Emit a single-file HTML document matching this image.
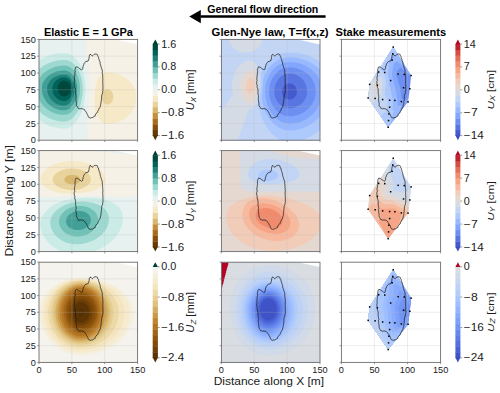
<!DOCTYPE html>
<html><head><meta charset="utf-8"><style>
html,body{margin:0;padding:0;background:#fff;width:500px;height:393px;overflow:hidden}
svg{display:block;font-family:"Liberation Sans",sans-serif}
</style></head><body>
<svg width="500" height="393" viewBox="0 0 500 393">
<rect width="500" height="393" fill="#fff"/>
<clipPath id="c00"><rect x="39" y="39.4" width="98.6" height="100.8"/></clipPath>
<g clip-path="url(#c00)">
<path d="M39 140.2 137.6 140.2 137.6 39.4 39 39.4 39 139.6Z" fill="#e9d39d" fill-rule="evenodd"/>
<path d="M39 140.2 137.6 140.2 137.6 39.4 39 39.4 39 139.6ZM106.4 104.6 104.2 103.5 102.6 101.6 101.6 98.8 101.5 96 101.8 94.3 102.5 92.6 104.2 90.4 105.8 89.4 107.5 89.1 108.4 89.2 109.1 89.4 110.8 90.5 112.3 92.6 113.3 95.4 113.4 98.2 112.8 100.4 112.2 101.6 111.3 102.7 109.7 104.1 108 104.6 106.9 104.7Z" fill="#f6e9c7" fill-rule="evenodd"/>
<path d="M39 140.2 137.6 140.2 137.6 39.4 39 39.4 39 139.6ZM106.4 124 104.7 123.6 103.1 122.8 101.4 121.5 99.6 119.5 97.8 116.7 96.7 114.4 95 109.4 94.6 102.1 94.7 94.8 95.5 88.1 97.1 80.8 98.5 78 100.4 75.8 102.5 73.9 105.3 72.6 108 72.3 113 72.8 117.3 73.8 121.2 75.3 125 77.5 128.6 80.3 131.6 83.6 133.8 87 135.3 90.9 136.1 94.8 136.2 99.3 135.4 103.8 133.8 108.2 131.6 111.9 128.5 115.6 125 118.5 120.6 121.1 116.2 122.8 111.9 123.7 106.9 124.1Z" fill="#f5f1e6" fill-rule="evenodd"/>
<path d="M39 140.2 87 140.2 87.9 125.6 87.5 125.6 87.6 126.2 86.4 126.8 87.2 123.2 87.8 118.5 88.3 120.3 88.5 118.4 87.8 117.8 88.3 109.4 88.8 111.3 89 108.8 88.3 108.3 88.6 103.2 89.4 88.1 90.1 87.6 89.9 85.5 89.4 86.9 89.2 84.8 89.1 82 89.8 81.4 89.1 71.9 88.8 70.1 88.3 71.4 88.1 69.6 88.8 69.1 88.6 67.4 88.3 65.2 87.8 66.2 87.4 63.5 88.1 62.9 88 62.4 87.8 60.4 87.2 61.5 86.4 56.2 85.6 51.7 86.4 51.7 86.3 52.3 86.8 52.3 85.7 39.4 39 39.4 39 139.6ZM85.6 51.6 85.4 51.2 85.6 51.1 85.6 51.2ZM86.1 127.9 86.1 127.9 86.1 127.8 86.1 127.9ZM88.8 77.2 88.8 75.7 89.3 75.8 88.9 76.9ZM89.3 101 89.5 99.3 88.9 99.3 89.2 100.4ZM89.8 91.5 89.9 91.9 90.1 90.4 89.5 90.4 89.6 90.9ZM86.8 56.8 87.4 56.8 87.3 56.2 87.2 55.7 87 56.2Z" fill="#e6f1f0" fill-rule="evenodd"/>
<path d="M60.8 128.4 64.2 128.6 66.4 128.4 68.6 127.7 70.2 127 72.4 125.5 74.6 123.5 76.6 121.2 78.2 118.9 79.7 116.1 81.5 112.2 83.6 105.5 84.7 99.3 85.4 89.8 85.4 83.1 84.2 75.8 82.6 70.2 79.8 64 77.5 60.7 76.1 59 74.1 56.9 71.9 55.3 68 53.5 65.8 53 63.6 52.9 56.5 53.6 51.1 54.8 45 57.1 39 60.5 39 120 44.5 123.6 49.4 125.9 54.9 127.5 60.4 128.4Z" fill="#cbebe6" fill-rule="evenodd"/>
<path d="M57.9 121.2 63.6 121.7 66.9 121.4 69.1 120.5 70.8 119.6 74.1 116.6 77.2 112.2 79.6 107.2 81.4 101 82.6 93.7 82.8 87 82.1 80.8 80.5 74.7 78.2 69.6 75.2 65.4 73.5 63.7 71.3 62.1 69.1 60.9 67.5 60.3 63.6 59.9 57.1 60.5 53.2 61.4 50 62.5 47.2 63.7 43.9 65.4 39 69.2 39 111 42.8 114.5 47.2 117.3 52.1 119.6 57.6 121.1Z" fill="#9dd9d0" fill-rule="evenodd"/>
<path d="M59.6 114.4 64.2 114.8 67.5 114.3 70.8 112.5 73.8 109.4 76.6 104.9 78.3 100.4 79.6 94.8 80 88.7 79.7 83.6 78.5 78.6 76.5 74.1 74.1 70.6 70.8 67.7 67.5 66.1 64.2 65.6 59.8 65.9 56 66.6 52.7 67.7 50 68.9 47.2 70.4 45 72 42.7 74.1 40.3 76.9 39 79.1 39 99.3 39.8 101 43 105.5 45 107.5 47.8 109.7 52.7 112.5 56 113.7 59.3 114.4Z" fill="#70c1b6" fill-rule="evenodd"/>
<path d="M60.3 110 64.2 110.3 66.9 109.8 69.7 108.3 71.9 106 74.1 102.7 75.8 98.2 76.9 93.2 77.2 88.1 76.8 84.2 75.7 80.3 74.1 76.8 71.9 74 69.7 72.2 66.9 71 64.2 70.6 59.8 70.9 56.5 71.6 52.7 73.1 49.4 75 46.7 77.4 44.7 79.7 43.1 82.5 42.2 85.3 41.8 88.7 42.2 92.6 43.2 96 44.8 99.3 47.2 102.7 50 105.3 52.7 107.2 56 108.8 59.8 109.9Z" fill="#419f97" fill-rule="evenodd"/>
<path d="M61.3 105.5 64.2 105.7 66.4 105.3 68.6 104.1 70.5 102.1 72.2 99.3 73.8 94.8 74.4 91.5 74.5 87.6 74 84.2 73.3 82 71.7 79.2 69.7 76.9 67.5 75.5 65.8 74.9 63.1 74.8 60.4 75.1 58.2 75.7 55.4 76.7 52.7 78.3 50.5 80.3 49.2 82 48 84.2 47.3 86.4 47.1 88.7 47.3 91.5 48.1 94.3 49.3 97.1 51.1 99.5 53 101.6 55.4 103.3 58.2 104.6 60.9 105.4Z" fill="#1d8078" fill-rule="evenodd"/>
<path d="M63.5 101 65.3 100.9 66.9 100.4 68.6 99.3 70.2 97.6 71.3 95.8 72.4 92.9 72.9 89.8 73 87.9 72.4 84.8 71.9 83.2 70.8 81.3 69.7 79.9 68 78.6 66.4 77.9 64.7 77.5 62.6 77.6 60.5 78 58.7 78.8 57.1 79.7 55.2 81.4 53.9 83.1 53.1 84.8 52.6 86.4 52.3 88.7 52.6 90.9 53.2 93.2 54.3 95.4 55.6 97.1 57.1 98.5 58.7 99.6 60.9 100.5 63.1 101Z" fill="#016259" fill-rule="evenodd"/>
<path d="M61.9 96 64.2 96.5 66.5 96 67.5 95.4 69.1 93.8 70.2 91.7 70.8 88.7 70.8 87.6 70.2 85.3 68.6 82.6 66.4 81.1 65.8 80.8 63.6 80.7 62.5 80.8 61.3 81.4 59.8 82.6 58.2 85.3 57.6 88.1 58.1 91.5 59.3 93.8 60.2 94.8 61.5 95.7Z" fill="#00483d" fill-rule="evenodd"/>
<path d="M110.6 38.4H138.6V44.6Z" fill="#fff"/>
</g>
<path d="M71.9 39.4V140.2M104.7 39.4V140.2M39 123.4H137.6M39 106.6H137.6M39 89.8H137.6M39 73H137.6M39 56.2H137.6" stroke="#b8b8b8" stroke-opacity="0.3" stroke-width="0.8" fill="none"/>
<path d="M74.6 76.8 74.7 76 74.9 75.3 74.7 74.6 74.9 73.9 75.2 73.1 75 72.4 75.3 71.7 74.9 70.9 75.1 70.2 75 69.5 75.4 68.8 75.5 68.1 75.7 67.3 76.3 66.8 77.6 67.2 78.3 67.6 78.9 68.1 79.5 68.6 80.2 69 80.9 69.4 81.5 70 82.4 69.4 82.7 68.6 82.8 67.7 83.1 66.9 83 66.1 83.5 65.4 83.7 64.6 83.9 63.8 84.4 63.2 84.8 62.5 85.8 61.6 87.1 61.2 88.4 60.7 88.5 59.8 88.9 59 89.1 58.2 89.1 57.3 89.3 56.4 89.3 55.6 89.8 55 90 54.3 91 54.7 91.6 55.5 92.3 56 93.2 55.3 93.8 54.7 94.5 54.3 95.3 54 96.2 54.1 96.9 54.3 97.5 54.7 97.6 55.5 97.8 56.2 98.4 56.8 98.6 57.7 98.7 58.6 99.2 59.5 99.2 60.3 99.7 61.1 99.8 62 100.3 62.7 100.1 63.6 100.3 64.3 100.5 65.1 100.8 65.8 101.1 66.6 101.2 67.3 101.4 68.1 101.8 68.9 102.1 69.8 102.3 70.5 102.4 71.2 102.3 71.9 102.2 72.6 102.5 73.3 102.4 74 102.6 74.8 102.7 75.5 102.6 76.2 102.8 76.9 102.8 77.7 102.7 78.4 103 79.1 102.8 79.9 102.9 80.6 102.7 81.3 102.7 82.1 102.9 82.8 102.8 83.5 102.8 84.2 103 85 102.8 85.7 103 86.4 102.9 87.2 103 87.9 102.9 88.6 102.9 89.4 103.1 90.2 102.9 90.9 102.5 91.7 102.7 92.5 102.5 93.5 102 94.4 101.7 95.2 101.7 95.9 101.5 96.7 101.6 97.5 101.5 98.3 101.3 99 101.5 99.8 101.4 100.5 101 101.2 101.1 102 101 102.7 100.9 103.5 100.8 104.3 100.5 105 100.3 105.8 100.4 106.6 100 107.4 99.3 108 99 108.9 98.6 109.5 98.4 110.2 98.1 110.8 97.7 111.4 97.6 112.2 97.1 112.8 96.2 113.3 95.7 114.2 95.2 115.1 95.2 116.1 94.4 116.3 93.7 116.8 93 117.2 92.3 117.6 91.3 117.7 90.4 118.1 89.7 117.7 88.9 117.6 88.5 116.8 87.9 116.1 87.9 115.2 87.4 114.5 87 113.7 86.6 113.1 86.4 112.4 86 111.8 85.4 111.1 85 110.3 84.2 109.8 83.6 109.1 82.7 108.8 81.7 108.7 80.7 108.6 79.7 108.9 79.1 108.4 78.3 108.4 78 107.6 77.3 107 77.1 106.3 76.6 105.6 76.6 104.8 76.3 104.1 76.6 103.3 76.4 102.5 76.2 101.8 76.1 101 76.1 100.2 75.9 99.4 75.9 98.6 75.8 97.9 76.3 97.1 76.1 96.3 76.1 95.5 75.7 94.8 75.8 94 75.5 93.3 75.7 92.5 75.5 91.7 75.7 90.9 75.6 90.2 75.4 89.4 75.4 88.6 74.9 87.7 74.7 86.7 74.7 85.9 74.9 85.1 74.5 84.4 74.2 83.6 74.4 82.8 74.2 82 74.2 81.3 74.8 80.5 74.5 79.8 74.7 79 74.4 78.3 74.4 77.5 74.6 76.8" stroke="#1a1a1a" stroke-width="0.75" fill="none" stroke-linejoin="round"/>
<rect x="39" y="39.4" width="98.6" height="100.8" fill="none" stroke="#6e6e6e" stroke-width="0.9"/>
<path d="M39 140.2v1.8M71.9 140.2v1.8M104.7 140.2v1.8M137.6 140.2v1.8M39 140.2h-1.8M39 123.4h-1.8M39 106.6h-1.8M39 89.8h-1.8M39 73h-1.8M39 56.2h-1.8M39 39.4h-1.8" stroke="#6e6e6e" stroke-width="0.7"/>
<text x="35.8" y="143.3" font-size="8.5" text-anchor="end" fill="#1a1a1a" textLength="5.1" lengthAdjust="spacingAndGlyphs" >0</text>
<text x="35.8" y="126.5" font-size="8.5" text-anchor="end" fill="#1a1a1a" textLength="10.2" lengthAdjust="spacingAndGlyphs" >25</text>
<text x="35.8" y="109.7" font-size="8.5" text-anchor="end" fill="#1a1a1a" textLength="10.2" lengthAdjust="spacingAndGlyphs" >50</text>
<text x="35.8" y="92.9" font-size="8.5" text-anchor="end" fill="#1a1a1a" textLength="10.2" lengthAdjust="spacingAndGlyphs" >75</text>
<text x="35.8" y="76.1" font-size="8.5" text-anchor="end" fill="#1a1a1a" textLength="15.3" lengthAdjust="spacingAndGlyphs" >100</text>
<text x="35.8" y="59.3" font-size="8.5" text-anchor="end" fill="#1a1a1a" textLength="15.3" lengthAdjust="spacingAndGlyphs" >125</text>
<text x="35.8" y="42.5" font-size="8.5" text-anchor="end" fill="#1a1a1a" textLength="15.3" lengthAdjust="spacingAndGlyphs" >150</text>
<clipPath id="c01"><rect x="221.4" y="39.4" width="98.6" height="100.8"/></clipPath>
<g clip-path="url(#c01)">
<path d="M221.4 140.2 320 140.2 320 39.4 221.4 39.4 221.4 139.6Z" fill="#445acc" fill-rule="evenodd"/>
<path d="M221.4 140.2 320 140.2 320 39.4 221.4 39.4 221.4 139.6ZM288.2 99.4 286.6 98.9 285.5 98.3 284.4 97.4 283.3 96 282.2 93.2 282 91.5 282.2 89.8 283.3 86.9 284.4 85.6 285.5 84.6 286.6 84 288.2 83.5 291 83.6 292.1 83.9 293.7 84.8 295.7 87 296.8 89.8 296.9 92.6 296.1 95.4 294.3 97.7 293.2 98.5 291.5 99.2 288.8 99.5Z" fill="#5875e1" fill-rule="evenodd"/>
<path d="M221.4 140.2 320 140.2 320 39.4 221.4 39.4 221.4 139.6ZM286 107.8 282.9 106.6 280.4 104.9 277.8 102.2 276.2 99.5 275.1 96.7 274.4 93.2 274.5 88.7 275.1 85.9 276.2 82.8 278.3 79.2 280.5 76.9 282.7 75.2 285.1 74.1 287.7 73.5 292.1 73.5 294.5 74.1 297.3 75.2 300.7 77.5 302.5 79.2 304.7 82.2 306.3 85.9 306.9 88.1 307.2 91.5 306.8 94.8 305.8 98.1 304.1 100.9 301.9 103.4 299.2 105.5 295.9 107.1 293.2 107.9 289.9 108.3 286.6 108Z" fill="#6c8ff1" fill-rule="evenodd"/>
<path d="M221.4 140.2 320 140.2 320 39.4 221.4 39.4 221.4 139.6ZM287.1 116.2 282.8 115 278.9 112.8 275.6 109.7 272.9 106 270.7 101.2 269.6 97.1 269.1 91.5 269.6 85.9 270.7 82 272.9 77.4 275.6 73.7 278.9 70.8 283 68.5 287.1 67.4 291.9 67.4 296.4 68.2 300.8 69.7 305.6 72.4 308.9 75.2 311.8 78.8 314 82.8 315.1 86.4 315.7 90.9 315.6 93.7 315.3 96 314 100.4 311.8 104.5 309 108 305.6 111.1 301.9 113.4 297.5 115.1 292.6 116.2 287.7 116.2Z" fill="#82a6fb" fill-rule="evenodd"/>
<path d="M221.4 140.2 320 140.2 320 103.3 318.2 107.2 315.6 111 312.5 114.4 309.2 117.2 305.8 119.5 300.9 121.7 297 122.9 292.6 123.6 288.8 123.7 285.5 123.3 282.2 122.3 278.9 120.5 275.6 118 272.9 115.1 270.7 112 268.5 107.8 267.4 104.9 266.3 101 265.5 97.1 265.2 93.2 265.2 89.2 265.6 85.9 266.3 82.5 267.4 79.2 268.9 75.8 270.5 73 272.3 70.5 274.7 68 276.7 66.3 279.5 64.5 282.8 63.1 285.5 62.3 289.9 61.9 295.4 62.4 300.3 63.6 305.8 65.8 310.1 68.5 314 71.9 317.3 75.8 320 80.6 320 39.4 221.4 39.4 221.4 139.6Z" fill="#98b9ff" fill-rule="evenodd"/>
<path d="M221.4 140.2 320 140.2 320 116.1 317.3 119.1 314 122 310.1 124.7 305.8 127 301.4 128.7 297 129.8 292.6 130.4 288.2 130.5 284.4 129.9 282.2 129.2 278.9 127.7 276.2 125.9 272.9 123.1 270.3 120 268.3 117.2 266.1 113.3 264.4 109.4 263.3 106 261.8 98.8 261.8 97.1 262.8 87.6 263.4 78.6 264.7 75.2 266 72.4 267.8 69.6 269.9 66.8 272 64.6 274.5 62.4 276.7 60.9 279.5 59.4 283.8 57.9 288.8 57.2 294.8 57.5 300.8 58.7 306.3 60.5 311.8 63.2 316.2 66.3 320 69.8 320 39.4 221.4 39.4 221.4 139.6Z" fill="#aec9fc" fill-rule="evenodd"/>
<path d="M221.4 140.2 281.2 140.2 278.4 138.8 275.1 136.6 271.8 133.6 268.8 130.1 266.5 126.8 264.3 122.8 262.2 118.4 260.4 113.3 259.4 109.4 258.3 104.4 259.8 97.6 260.8 89.8 261.3 81.4 261.1 73 262.8 69.6 264.8 66.3 267 63.5 270.2 60.2 273.4 57.6 276.2 55.8 278.4 54.7 281.7 53.5 283.8 53 288.2 52.4 293.2 52.5 298.1 53 305.8 54.7 311.8 57 313.4 57.9 316.2 59.2 320 61.6 320 39.4 221.4 39.4 221.4 139.6ZM301.6 140.2 320 140.2 320 130.1 315.1 133.9 310.7 136.6 305.8 138.8 301.9 140.1Z" fill="#c3d5f4" fill-rule="evenodd"/>
<path d="M221.4 140.2 237.4 140.2 248.8 109.7 249.3 109.2 251.5 109.2 253.2 108.2 254.8 106.5 256.5 103.8 257.6 101 258.6 94.3 259.2 85.9 259.4 79.2 258.7 73.6 257.9 69.6 256.6 65.7 255.4 63.5 253.7 61.5 252.6 60.7 251.5 60.2 248.2 60.4 245 61.4 242.2 63 239.2 65.7 236.7 69 234.9 72.4 232.9 78 232 83.6 232 89.2 233 94.8 221.4 111.3 221.4 139.6ZM242.6 52.3 245.5 52.5 248.2 52.4 251 51.8 253.7 50.8 256 49.5 258.1 47.8 260.1 45.6 261.4 43.3 262 41.6 262.4 39.4 248.8 39.4 229 39.4 229.5 41.6 230.4 43.9 231.8 46.1 233.3 47.8 235.1 49.2 237.3 50.6 239.5 51.5 242.2 52.2Z" fill="#d5dbe5" fill-rule="evenodd"/>
<path d="M248.7 103.2 250.4 103.6 251.2 103.2 252.6 101.9 254.3 99.4 255.4 97 256.5 93.5 257.1 90.4 257.4 86.4 257.3 83.1 256.9 79.7 255.9 75.8 254.8 73 253.9 71.3 253.2 70.7 252.1 70.2 249.9 70.1 247.9 70.8 246.2 71.9 245 73 243.4 75.2 241.7 79.2 241.1 81.4 240.7 85.3 241.1 91.2 242.2 95.4 243.8 98.8 245 100.4 246.1 101.6 248.2 103Z" fill="#e5d8d1" fill-rule="evenodd"/>
<path d="M249.4 94.3 249.9 94.4 251 93.9 252.6 92.2 253.7 89.8 254.2 87.6 254.3 84.7 253.7 81.5 252.6 79 251.4 77.5 249.9 77.6 248.2 79.1 247.1 81.4 246.5 84.2 246.4 87.6 247 90.4 247.9 92.6 249.3 94.3Z" fill="#f1ccb8" fill-rule="evenodd"/>
<path d="M293 38.4H321V44.6Z" fill="#fff"/>
</g>
<path d="M254.3 39.4V140.2M287.1 39.4V140.2M221.4 123.4H320M221.4 106.6H320M221.4 89.8H320M221.4 73H320M221.4 56.2H320" stroke="#b8b8b8" stroke-opacity="0.3" stroke-width="0.8" fill="none"/>
<path d="M257 76.8 257.1 76 257.3 75.3 257.1 74.6 257.3 73.9 257.6 73.1 257.4 72.4 257.7 71.7 257.3 70.9 257.5 70.2 257.4 69.5 257.8 68.8 257.9 68.1 258.1 67.3 258.7 66.8 260 67.2 260.7 67.6 261.3 68.1 261.9 68.6 262.6 69 263.3 69.4 263.9 70 264.8 69.4 265.1 68.6 265.2 67.7 265.5 66.9 265.4 66.1 265.9 65.4 266.1 64.6 266.3 63.8 266.8 63.2 267.2 62.5 268.2 61.6 269.5 61.2 270.8 60.7 270.9 59.8 271.3 59 271.5 58.2 271.5 57.3 271.7 56.4 271.7 55.6 272.2 55 272.4 54.3 273.4 54.7 274 55.5 274.7 56 275.6 55.3 276.2 54.7 276.9 54.3 277.7 54 278.6 54.1 279.3 54.3 279.9 54.7 280 55.5 280.2 56.2 280.8 56.8 281 57.7 281.1 58.6 281.6 59.5 281.6 60.3 282.1 61.1 282.2 62 282.7 62.7 282.5 63.6 282.7 64.3 282.9 65.1 283.2 65.8 283.5 66.6 283.6 67.3 283.8 68.1 284.2 68.9 284.5 69.8 284.7 70.5 284.8 71.2 284.7 71.9 284.6 72.6 284.9 73.3 284.8 74 285 74.8 285.1 75.5 285 76.2 285.2 76.9 285.2 77.7 285.1 78.4 285.4 79.1 285.2 79.9 285.3 80.6 285.1 81.3 285.1 82.1 285.3 82.8 285.2 83.5 285.2 84.2 285.4 85 285.2 85.7 285.4 86.4 285.3 87.2 285.4 87.9 285.3 88.6 285.3 89.4 285.5 90.2 285.3 90.9 284.9 91.7 285.1 92.5 284.9 93.5 284.4 94.4 284.1 95.2 284.1 95.9 283.9 96.7 284 97.5 283.9 98.3 283.7 99 283.9 99.8 283.8 100.5 283.4 101.2 283.5 102 283.4 102.7 283.3 103.5 283.2 104.3 282.9 105 282.7 105.8 282.8 106.6 282.4 107.4 281.7 108 281.4 108.9 281 109.5 280.8 110.2 280.5 110.8 280.1 111.4 280 112.2 279.5 112.8 278.6 113.3 278.1 114.2 277.6 115.1 277.6 116.1 276.8 116.3 276.1 116.8 275.4 117.2 274.7 117.6 273.7 117.7 272.8 118.1 272.1 117.7 271.3 117.6 270.9 116.8 270.3 116.1 270.3 115.2 269.8 114.5 269.4 113.7 269 113.1 268.8 112.4 268.4 111.8 267.8 111.1 267.4 110.3 266.6 109.8 266 109.1 265.1 108.8 264.1 108.7 263.1 108.6 262.1 108.9 261.5 108.4 260.7 108.4 260.4 107.6 259.7 107 259.5 106.3 259 105.6 259 104.8 258.8 104.1 259 103.3 258.8 102.5 258.6 101.8 258.5 101 258.5 100.2 258.3 99.4 258.3 98.6 258.2 97.9 258.7 97.1 258.5 96.3 258.5 95.5 258.1 94.8 258.2 94 257.9 93.3 258.1 92.5 257.9 91.7 258.1 90.9 258 90.2 257.8 89.4 257.8 88.6 257.3 87.7 257.1 86.7 257.1 85.9 257.3 85.1 256.9 84.4 256.6 83.6 256.8 82.8 256.6 82 256.6 81.3 257.2 80.5 256.9 79.8 257.1 79 256.8 78.3 256.8 77.5 257 76.8" stroke="#1a1a1a" stroke-width="0.75" fill="none" stroke-linejoin="round"/>
<rect x="221.4" y="39.4" width="98.6" height="100.8" fill="none" stroke="#6e6e6e" stroke-width="0.9"/>
<path d="M221.4 140.2v1.8M254.3 140.2v1.8M287.1 140.2v1.8M320 140.2v1.8M221.4 140.2h-1.8M221.4 123.4h-1.8M221.4 106.6h-1.8M221.4 89.8h-1.8M221.4 73h-1.8M221.4 56.2h-1.8M221.4 39.4h-1.8" stroke="#6e6e6e" stroke-width="0.7"/>
<clipPath id="c02"><rect x="341.4" y="39.4" width="99.2" height="100.8"/></clipPath>
<g clip-path="url(#c02)">
<path d="M388.2 127.3 408 101.8 409.8 88.7 411.1 75.6 393.2 47 369.6 84.3 368.2 97.9Z" fill="#6c8ff1" fill-rule="evenodd"/>
<path d="M408.3 99.6 407.3 99.5 401.7 99.2 400.8 91.7 399.5 85.5 396.5 75.5 396.3 73.9 396.8 71.1 400.5 67.8 410.2 75.5 409.8 77.6 410.9 77.8 411.1 75.6 393.2 47 369.6 84.3 368.2 97.9 388.2 127.3 408 101.8Z" fill="#82a6fb" fill-rule="evenodd"/>
<path d="M399.5 112.7 401.6 105.8 397.2 105.6 397.5 100.8 397.1 97.2 393.9 82.3 392.8 78.7 392 73.3 393.8 64.1 396.9 61.2 403.2 66.2 405.1 66.1 393.2 47 369.6 84.3 368.2 97.9 388.2 127.3Z" fill="#98b9ff" fill-rule="evenodd"/>
<path d="M389.6 125.5 394.2 110.5 392.3 110.5 392.9 105.6 392.9 100.3 390.3 87.9 389 84.6 389.3 81 388.4 77.5 387.7 72.8 389.3 64.7 388.8 63.1 392.6 55.3 393.2 54.6 394 55.3 398.2 54.9 393.2 47 369.6 84.3 368.2 97.9 388.2 127.3Z" fill="#aec9fc" fill-rule="evenodd"/>
<path d="M380.7 116.3 382.7 114 384.1 113.1 386.2 110.8 386.8 109.1 387.3 104.6 387.3 100 384.9 94.1 385.9 82.2 384 73.7 381.7 72.3 380.9 70.1 385.9 59.5 389.3 53.2 369.6 84.3 368.2 97.9Z" fill="#c3d5f4" fill-rule="evenodd"/>
<path d="M371.9 103.4 372.6 102.7 376.3 100.2 376.6 100 377.1 98.7 381.5 96.4 382.6 83.4 381.4 78.2 378.3 76.2 373 79.7 375.5 75 369.6 84.3 368.2 97.9Z" fill="#d5dbe5" fill-rule="evenodd"/>
<path d="M377.7 81.9 373.5 84.8 376.5 90.5 378.8 89.3 379.2 84.5 378.8 82.6Z" fill="#e5d8d1" fill-rule="evenodd"/>
</g>
<path d="M374.5 39.4V140.2M407.5 39.4V140.2M341.4 123.4H440.6M341.4 106.6H440.6M341.4 89.8H440.6M341.4 73H440.6M341.4 56.2H440.6" stroke="#b8b8b8" stroke-opacity="0.3" stroke-width="0.8" fill="none"/>
<path d="M377.2 76.8 377.3 76 377.5 75.3 377.3 74.6 377.5 73.9 377.8 73.1 377.6 72.4 378 71.7 377.6 70.9 377.7 70.2 377.7 69.5 378 68.8 378.1 68.1 378.3 67.3 379 66.8 380.3 67.2 380.9 67.6 381.6 68.1 382.2 68.6 382.9 69 383.6 69.4 384.2 70 385.1 69.4 385.4 68.6 385.5 67.7 385.7 66.9 385.6 66.1 386.2 65.4 386.4 64.6 386.6 63.8 387.1 63.2 387.5 62.5 388.5 61.6 389.8 61.2 391.1 60.7 391.2 59.8 391.6 59 391.8 58.2 391.8 57.3 392 56.4 392 55.6 392.5 55 392.7 54.3 393.7 54.7 394.3 55.5 395.1 56 395.9 55.3 396.5 54.7 397.2 54.3 398.1 54 398.9 54.1 399.6 54.3 400.3 54.7 400.3 55.5 400.6 56.2 401.2 56.8 401.3 57.7 401.5 58.6 402 59.5 402 60.3 402.5 61.1 402.6 62 403 62.7 402.9 63.6 403.1 64.3 403.3 65.1 403.6 65.8 403.9 66.6 404 67.3 404.2 68.1 404.5 68.9 404.9 69.8 405.1 70.5 405.1 71.2 405.1 71.9 404.9 72.6 405.2 73.3 405.2 74 405.4 74.8 405.5 75.5 405.4 76.2 405.6 76.9 405.6 77.7 405.5 78.4 405.8 79.1 405.6 79.9 405.7 80.6 405.5 81.3 405.5 82.1 405.7 82.8 405.6 83.5 405.6 84.2 405.8 85 405.6 85.7 405.8 86.4 405.6 87.2 405.8 87.9 405.7 88.6 405.7 89.4 405.9 90.2 405.7 90.9 405.2 91.7 405.5 92.5 405.3 93.5 404.7 94.4 404.5 95.2 404.5 95.9 404.3 96.7 404.4 97.5 404.3 98.3 404.1 99 404.3 99.8 404.2 100.5 403.8 101.2 403.9 102 403.8 102.7 403.7 103.5 403.6 104.3 403.3 105 403.1 105.8 403.1 106.6 402.8 107.4 402.1 108 401.8 108.9 401.4 109.5 401.2 110.2 400.9 110.8 400.4 111.4 400.3 112.2 399.9 112.8 399 113.3 398.4 114.2 398 115.1 397.9 116.1 397.1 116.3 396.5 116.8 395.8 117.2 395 117.6 394 117.7 393.1 118.1 392.4 117.7 391.6 117.6 391.2 116.8 390.6 116.1 390.6 115.2 390.1 114.5 389.7 113.7 389.3 113.1 389 112.4 388.7 111.8 388 111.1 387.7 110.3 386.9 109.8 386.3 109.1 385.3 108.8 384.3 108.7 383.3 108.6 382.3 108.9 381.7 108.4 380.9 108.4 380.6 107.6 379.9 107 379.7 106.3 379.2 105.6 379.2 104.8 379 104.1 379.2 103.3 379 102.5 378.8 101.8 378.7 101 378.7 100.2 378.6 99.4 378.5 98.6 378.5 97.9 379 97.1 378.7 96.3 378.7 95.5 378.4 94.8 378.4 94 378.1 93.3 378.3 92.5 378.1 91.7 378.3 90.9 378.2 90.2 378.1 89.4 378 88.6 377.5 87.7 377.3 86.7 377.3 85.9 377.5 85.1 377.1 84.4 376.8 83.6 377 82.8 376.8 82 376.8 81.3 377.4 80.5 377.1 79.8 377.3 79 377 78.3 377 77.5 377.2 76.8" stroke="#1a1a1a" stroke-width="0.75" fill="none" stroke-linejoin="round"/>
<g fill="#000"><rect x="392.5" y="46.3" width="1.5" height="1.5"/><rect x="392" y="53" width="1.5" height="1.5"/><rect x="391.4" y="59.3" width="1.5" height="1.5"/><rect x="377.9" y="71.3" width="1.5" height="1.5"/><rect x="384" y="71.7" width="1.5" height="1.5"/><rect x="397.4" y="73.3" width="1.5" height="1.5"/><rect x="403.5" y="73.7" width="1.5" height="1.5"/><rect x="410.4" y="74.8" width="1.5" height="1.5"/><rect x="389.9" y="79.8" width="1.5" height="1.5"/><rect x="368.9" y="83.6" width="1.5" height="1.5"/><rect x="376.6" y="84.5" width="1.5" height="1.5"/><rect x="402.8" y="87" width="1.5" height="1.5"/><rect x="409.1" y="88" width="1.5" height="1.5"/><rect x="367.4" y="97.2" width="1.5" height="1.5"/><rect x="374.4" y="97.7" width="1.5" height="1.5"/><rect x="381.9" y="98.8" width="1.5" height="1.5"/><rect x="388.9" y="99.5" width="1.5" height="1.5"/><rect x="394.1" y="99.7" width="1.5" height="1.5"/><rect x="400.6" y="100.8" width="1.5" height="1.5"/><rect x="407.3" y="101.1" width="1.5" height="1.5"/><rect x="388.9" y="106.5" width="1.5" height="1.5"/><rect x="388.1" y="113.2" width="1.5" height="1.5"/><rect x="387.8" y="119.8" width="1.5" height="1.5"/><rect x="387.4" y="126.5" width="1.5" height="1.5"/></g>
<rect x="341.4" y="39.4" width="99.2" height="100.8" fill="none" stroke="#6e6e6e" stroke-width="0.9"/>
<path d="M341.4 140.2v1.8M374.5 140.2v1.8M407.5 140.2v1.8M440.6 140.2v1.8M341.4 140.2h-1.8M341.4 123.4h-1.8M341.4 106.6h-1.8M341.4 89.8h-1.8M341.4 73h-1.8M341.4 56.2h-1.8M341.4 39.4h-1.8" stroke="#6e6e6e" stroke-width="0.7"/>
<rect x="152.7" y="129.9" width="5.2" height="6.1" fill="#663a07"/>
<rect x="152.7" y="124.2" width="5.2" height="6.1" fill="#874e0a"/>
<rect x="152.7" y="118.4" width="5.2" height="6.1" fill="#a96c1e"/>
<rect x="152.7" y="112.7" width="5.2" height="6.1" fill="#c58e3d"/>
<rect x="152.7" y="107" width="5.2" height="6.1" fill="#d9b76f"/>
<rect x="152.7" y="101.3" width="5.2" height="6.1" fill="#e9d39d"/>
<rect x="152.7" y="95.5" width="5.2" height="6.1" fill="#f6e9c7"/>
<rect x="152.7" y="89.8" width="5.2" height="6.1" fill="#f5f1e6"/>
<rect x="152.7" y="84.1" width="5.2" height="6.1" fill="#e6f1f0"/>
<rect x="152.7" y="78.3" width="5.2" height="6.1" fill="#cbebe6"/>
<rect x="152.7" y="72.6" width="5.2" height="6.1" fill="#9dd9d0"/>
<rect x="152.7" y="66.9" width="5.2" height="6.1" fill="#70c1b6"/>
<rect x="152.7" y="61.2" width="5.2" height="6.1" fill="#419f97"/>
<rect x="152.7" y="55.4" width="5.2" height="6.1" fill="#1d8078"/>
<rect x="152.7" y="49.7" width="5.2" height="6.1" fill="#016259"/>
<rect x="152.7" y="44" width="5.2" height="6.1" fill="#00483d"/>
<path d="M152.7 44.3L155.3 39.4L157.9 44.3Z" fill="#003c30"/>
<path d="M152.7 135.3L155.3 140.2L157.9 135.3Z" fill="#543005"/>
<text x="161.3" y="139.1" font-size="10.1" text-anchor="start" fill="#1a1a1a" textLength="22.8" lengthAdjust="spacingAndGlyphs" >−1.6</text>
<text x="161.3" y="116.2" font-size="10.1" text-anchor="start" fill="#1a1a1a" textLength="22.8" lengthAdjust="spacingAndGlyphs" >−0.8</text>
<text x="161.3" y="93.3" font-size="10.1" text-anchor="start" fill="#1a1a1a" textLength="15" lengthAdjust="spacingAndGlyphs" >0.0</text>
<text x="161.3" y="70.4" font-size="10.1" text-anchor="start" fill="#1a1a1a" textLength="15" lengthAdjust="spacingAndGlyphs" >0.8</text>
<text x="161.3" y="47.5" font-size="10.1" text-anchor="start" fill="#1a1a1a" textLength="15" lengthAdjust="spacingAndGlyphs" >1.6</text>
<path d="M157.9 135.6h1.8M157.9 112.7h1.8M157.9 89.8h1.8M157.9 66.9h1.8M157.9 44h1.8" stroke="#6e6e6e" stroke-width="0.7"/>
<text transform="translate(194 89.8) rotate(-90)" font-size="10" text-anchor="middle" fill="#1a1a1a" textLength="40.8" lengthAdjust="spacingAndGlyphs"><tspan font-style="italic">U</tspan><tspan font-style="italic" font-size="7" dy="1.6">X</tspan><tspan dy="-1.6"> [mm]</tspan></text>
<rect x="455.4" y="129.9" width="5" height="6.1" fill="#445acc"/>
<rect x="455.4" y="124.2" width="5" height="6.1" fill="#5875e1"/>
<rect x="455.4" y="118.4" width="5" height="6.1" fill="#6c8ff1"/>
<rect x="455.4" y="112.7" width="5" height="6.1" fill="#82a6fb"/>
<rect x="455.4" y="107" width="5" height="6.1" fill="#98b9ff"/>
<rect x="455.4" y="101.3" width="5" height="6.1" fill="#aec9fc"/>
<rect x="455.4" y="95.5" width="5" height="6.1" fill="#c3d5f4"/>
<rect x="455.4" y="89.8" width="5" height="6.1" fill="#d5dbe5"/>
<rect x="455.4" y="84.1" width="5" height="6.1" fill="#e5d8d1"/>
<rect x="455.4" y="78.3" width="5" height="6.1" fill="#f1ccb8"/>
<rect x="455.4" y="72.6" width="5" height="6.1" fill="#f7ba9f"/>
<rect x="455.4" y="66.9" width="5" height="6.1" fill="#f6a586"/>
<rect x="455.4" y="61.2" width="5" height="6.1" fill="#f08b6e"/>
<rect x="455.4" y="55.4" width="5" height="6.1" fill="#e46e56"/>
<rect x="455.4" y="49.7" width="5" height="6.1" fill="#d44e41"/>
<rect x="455.4" y="44" width="5" height="6.1" fill="#be242e"/>
<path d="M455.4 44.3L457.9 39.4L460.4 44.3Z" fill="#b40426"/>
<path d="M455.4 135.3L457.9 140.2L460.4 135.3Z" fill="#3b4cc0"/>
<text x="463.8" y="139.1" font-size="10.1" text-anchor="start" fill="#1a1a1a" textLength="19.9" lengthAdjust="spacingAndGlyphs" >−14</text>
<text x="463.8" y="116.2" font-size="10.1" text-anchor="start" fill="#1a1a1a" textLength="13.9" lengthAdjust="spacingAndGlyphs" >−7</text>
<text x="463.8" y="93.3" font-size="10.1" text-anchor="start" fill="#1a1a1a" textLength="6" lengthAdjust="spacingAndGlyphs" >0</text>
<text x="463.8" y="70.4" font-size="10.1" text-anchor="start" fill="#1a1a1a" textLength="6" lengthAdjust="spacingAndGlyphs" >7</text>
<text x="463.8" y="47.5" font-size="10.1" text-anchor="start" fill="#1a1a1a" textLength="12" lengthAdjust="spacingAndGlyphs" >14</text>
<path d="M460.4 135.6h1.8M460.4 112.7h1.8M460.4 89.8h1.8M460.4 66.9h1.8M460.4 44h1.8" stroke="#6e6e6e" stroke-width="0.7"/>
<text transform="translate(493.6 89.8) rotate(-90)" font-size="9.5" text-anchor="middle" fill="#1a1a1a" textLength="39.5" lengthAdjust="spacingAndGlyphs"><tspan font-style="italic">U</tspan><tspan font-style="italic" font-size="7" dy="1.6">X</tspan><tspan dy="-1.6"> [cm]</tspan></text>
<clipPath id="c10"><rect x="39" y="150.6" width="98.6" height="101"/></clipPath>
<g clip-path="url(#c10)">
<path d="M39 251.6 137.6 251.6 137.6 150.6 39 150.6 39 251Z" fill="#c58e3d" fill-rule="evenodd"/>
<path d="M39 251.6 137.6 251.6 137.6 150.6 39 150.6 39 251ZM71.9 179.8 72 179.2 72.8 179.2 73 179.8 72.4 180Z" fill="#d9b76f" fill-rule="evenodd"/>
<path d="M39 251.6 137.6 251.6 137.6 150.6 39 150.6 39 251ZM70.8 184.3 67.5 183.4 65.8 182.4 65 181.5 64.4 180.3 64.5 178.7 65.6 177 68 175.5 70.8 174.9 74.1 174.9 76.8 175.6 79.1 177 80.3 178.7 80.4 180.3 79.3 182 77.3 183.4 74.6 184.2 71.3 184.4Z" fill="#e9d39d" fill-rule="evenodd"/>
<path d="M39 251.6 137.6 251.6 137.6 150.6 39 150.6 39 251ZM69.7 189.9 65.5 189.3 63.1 188.8 59.8 187.6 56.8 185.9 54.8 184.3 53.5 182.6 52.8 180.9 52.7 178.7 53.5 176.4 54.6 174.7 56.5 172.9 59.3 171.2 62.6 169.9 66.4 168.9 70.2 168.4 73.5 168.4 76.8 168.7 80.1 169.4 83.4 170.6 86.1 172.1 88.3 173.9 89.8 175.8 90.7 178.1 90.8 180.3 90.3 182 88.8 184.3 86.9 185.9 84 187.6 81.2 188.7 78.4 189.4 75.1 189.9 70.2 189.9Z" fill="#f6e9c7" fill-rule="evenodd"/>
<path d="M39 251.6 137.6 251.6 137.6 150.6 39 150.6 39 251ZM62 193.3 59.8 193 55.4 191.9 50.5 190.2 46.1 187.9 43.1 185.4 41.1 182.6 40.4 179.8 40.8 176.4 42.4 173 45 170 48.9 167.1 53.2 164.8 57.6 163.2 62 162.1 65.3 161.6 70.8 161.1 77.9 161.4 82.3 162 87.8 163.2 92.1 164.8 96.5 167.1 100.7 170.2 103.5 173.6 104.9 177 105.2 178.7 105.2 180.3 104.8 182 104.2 183.2 102.5 185.4 99.3 187.9 96 189.7 92.1 191.1 84.5 192.4 76.8 193.2 65.3 193.6 62.6 193.4Z" fill="#f5f1e6" fill-rule="evenodd"/>
<path d="M39 251.6 137.6 251.6 137.6 196.7 137.1 196.7 113 196.7 94.3 196.1 57.1 196.9 39 196.7 39 251ZM137 155.1 137.6 155.2 137.6 150.6 89.9 150.6 88.3 150.6 89.4 150.7 136.5 155Z" fill="#e6f1f0" fill-rule="evenodd"/>
<path d="M60.5 251 61.8 251.6 93.4 251.6 99.8 249.1 105.8 245.7 111.3 241.5 113.6 239.3 116.1 236.4 118.1 233.6 120 230.3 121.2 227.4 122.2 224.1 122.7 220.7 122.9 217.9 122.6 214.6 122 212.3 120.9 210.1 119.3 207.8 117.3 205.9 115.1 204.3 109.7 201.3 105.3 199.7 102 198.9 96 198 91 197.7 86.9 197.7 75.7 198.6 64.7 200.2 58.7 202.4 53.2 205.3 49.4 208 46.7 210.4 44.9 212.3 43.2 214.6 41.9 216.8 40.9 219.1 40.3 221.9 40.2 224.1 40.4 226.3 40.9 229.2 42 232.5 43.5 235.9 45.2 238.7 46.9 240.9 49.4 243.7 51.6 245.7 54.9 248.1 60.4 251Z" fill="#cbebe6" fill-rule="evenodd"/>
<path d="M70.9 243.7 76.2 244.3 81.7 244 87.2 242.8 93.2 240.5 97.6 238 102.2 234.2 105 230.8 106.7 228 107.7 225.8 108.8 221.3 108.8 216.8 107.9 213.4 105.7 210.1 102.5 207.1 98.2 204.6 93.2 202.9 87.8 201.9 81.7 201.5 75.7 202 69.7 203.3 64.8 205 59.8 207.7 56.1 210.6 53.1 214 51.2 217.4 50.2 221.3 50.3 225.2 51.7 229.7 53.9 233.6 57.1 237.1 60.9 240 65.8 242.4 70.8 243.7Z" fill="#9dd9d0" fill-rule="evenodd"/>
<path d="M75.5 236.4 79.5 236.4 83.4 235.8 87.2 234.4 89.9 232.9 92.7 230.8 95.2 228 96.8 225.2 97.8 221.9 98 218.5 97.3 215.7 96.2 213.4 94.4 211.2 92.1 209.4 88.8 207.6 85.6 206.6 81.7 206 77.3 206.1 73.6 206.7 70.2 207.8 66.9 209.5 63.9 211.8 61.8 214 60.1 216.8 59.4 219.1 59 221.9 59.5 225.2 60.8 228 62.6 230.5 65.3 232.9 68 234.5 71.3 235.7 75.2 236.4Z" fill="#70c1b6" fill-rule="evenodd"/>
<path d="M74 229.7 78.4 230 81.1 229.7 83 229.2 85.4 228 87.1 226.9 88.8 225.2 90 223.5 90.6 221.9 90.8 219.6 90.5 217.6 89.9 216.2 88.6 214.6 86.7 213 85.6 212.3 82.8 211.4 80.6 211.1 77.3 211.1 74.3 211.8 73 212.3 70.8 213.4 69.4 214.6 68 216 66.9 217.6 66.3 219.1 66 221.3 66.4 223.5 66.9 224.8 68 226.3 69.2 227.5 71 228.6 73.5 229.6Z" fill="#419f97" fill-rule="evenodd"/>
<path d="M77.7 221.3 78.4 221.5 79.1 221.3 79.5 220.7 79.4 220.2 79 219.8 77.9 219.9 77.5 220.2 77.3 220.8Z" fill="#1d8078" fill-rule="evenodd"/>
<path d="M110.6 149.6H138.6V155.8Z" fill="#fff"/>
</g>
<path d="M71.9 150.6V251.6M104.7 150.6V251.6M39 234.8H137.6M39 217.9H137.6M39 201.1H137.6M39 184.3H137.6M39 167.4H137.6" stroke="#b8b8b8" stroke-opacity="0.3" stroke-width="0.8" fill="none"/>
<path d="M74.6 188 74.7 187.3 74.9 186.6 74.7 185.8 74.9 185.1 75.2 184.4 75 183.7 75.3 183 74.9 182.2 75.1 181.5 75 180.8 75.4 180.1 75.5 179.4 75.7 178.5 76.3 178.1 77.6 178.5 78.3 178.9 78.9 179.4 79.5 179.9 80.2 180.3 80.9 180.7 81.5 181.3 82.4 180.7 82.7 179.8 82.8 179 83.1 178.2 83 177.3 83.5 176.6 83.7 175.8 83.9 175.1 84.4 174.4 84.8 173.7 85.8 172.8 87.1 172.4 88.4 171.9 88.5 171.1 88.9 170.2 89.1 169.4 89.1 168.5 89.3 167.6 89.3 166.9 89.8 166.2 90 165.5 91 165.9 91.6 166.7 92.3 167.2 93.2 166.5 93.8 165.9 94.5 165.5 95.3 165.3 96.2 165.3 96.9 165.6 97.5 165.9 97.6 166.7 97.8 167.4 98.4 168 98.6 169 98.7 169.9 99.2 170.7 99.2 171.6 99.7 172.4 99.8 173.2 100.3 174 100.1 174.8 100.3 175.6 100.5 176.4 100.8 177.1 101.1 177.8 101.2 178.6 101.4 179.4 101.8 180.2 102.1 181.1 102.3 181.7 102.4 182.5 102.3 183.2 102.2 183.9 102.5 184.6 102.4 185.3 102.6 186 102.7 186.8 102.6 187.5 102.8 188.2 102.8 189 102.7 189.7 103 190.4 102.8 191.2 102.9 191.9 102.7 192.6 102.7 193.4 102.9 194.1 102.8 194.8 102.8 195.5 103 196.3 102.8 197 103 197.7 102.9 198.4 103 199.2 102.9 199.9 102.9 200.7 103.1 201.5 102.9 202.3 102.5 203 102.7 203.8 102.5 204.8 102 205.7 101.7 206.5 101.7 207.3 101.5 208 101.6 208.8 101.5 209.6 101.3 210.3 101.5 211.1 101.4 211.8 101 212.5 101.1 213.3 101 214.1 100.9 214.8 100.8 215.6 100.5 216.3 100.3 217.1 100.4 218 100 218.7 99.3 219.3 99 220.2 98.6 220.8 98.4 221.5 98.1 222.1 97.7 222.8 97.6 223.5 97.1 224.1 96.2 224.7 95.7 225.5 95.2 226.5 95.2 227.5 94.4 227.7 93.7 228.2 93 228.6 92.3 229 91.3 229 90.4 229.5 89.7 229.1 88.9 229 88.5 228.2 87.9 227.5 87.9 226.6 87.4 225.8 87 225 86.6 224.5 86.4 223.8 86 223.1 85.4 222.5 85 221.6 84.2 221.2 83.6 220.4 82.7 220.1 81.7 220 80.7 220 79.7 220.2 79.1 219.7 78.3 219.7 78 218.9 77.3 218.3 77.1 217.6 76.6 217 76.6 216.2 76.3 215.4 76.6 214.6 76.4 213.9 76.2 213.1 76.1 212.3 76.1 211.5 75.9 210.7 75.9 210 75.8 209.2 76.3 208.4 76.1 207.6 76.1 206.8 75.7 206.1 75.8 205.3 75.5 204.6 75.7 203.8 75.5 203 75.7 202.2 75.6 201.5 75.4 200.7 75.4 199.9 74.9 199 74.7 198 74.7 197.2 74.9 196.4 74.5 195.7 74.2 194.9 74.4 194.1 74.2 193.3 74.2 192.6 74.8 191.8 74.5 191.1 74.7 190.3 74.4 189.5 74.4 188.8 74.6 188" stroke="#1a1a1a" stroke-width="0.75" fill="none" stroke-linejoin="round"/>
<rect x="39" y="150.6" width="98.6" height="101" fill="none" stroke="#6e6e6e" stroke-width="0.9"/>
<path d="M39 251.6v1.8M71.9 251.6v1.8M104.7 251.6v1.8M137.6 251.6v1.8M39 251.6h-1.8M39 234.8h-1.8M39 217.9h-1.8M39 201.1h-1.8M39 184.3h-1.8M39 167.4h-1.8M39 150.6h-1.8" stroke="#6e6e6e" stroke-width="0.7"/>
<text x="35.8" y="254.7" font-size="8.5" text-anchor="end" fill="#1a1a1a" textLength="5.1" lengthAdjust="spacingAndGlyphs" >0</text>
<text x="35.8" y="237.9" font-size="8.5" text-anchor="end" fill="#1a1a1a" textLength="10.2" lengthAdjust="spacingAndGlyphs" >25</text>
<text x="35.8" y="221" font-size="8.5" text-anchor="end" fill="#1a1a1a" textLength="10.2" lengthAdjust="spacingAndGlyphs" >50</text>
<text x="35.8" y="204.2" font-size="8.5" text-anchor="end" fill="#1a1a1a" textLength="10.2" lengthAdjust="spacingAndGlyphs" >75</text>
<text x="35.8" y="187.4" font-size="8.5" text-anchor="end" fill="#1a1a1a" textLength="15.3" lengthAdjust="spacingAndGlyphs" >100</text>
<text x="35.8" y="170.5" font-size="8.5" text-anchor="end" fill="#1a1a1a" textLength="15.3" lengthAdjust="spacingAndGlyphs" >125</text>
<text x="35.8" y="153.7" font-size="8.5" text-anchor="end" fill="#1a1a1a" textLength="15.3" lengthAdjust="spacingAndGlyphs" >150</text>
<clipPath id="c11"><rect x="221.4" y="150.6" width="98.6" height="101"/></clipPath>
<g clip-path="url(#c11)">
<path d="M221.4 251.6 320 251.6 320 150.6 221.4 150.6 221.4 251Z" fill="#aec9fc" fill-rule="evenodd"/>
<path d="M221.4 251.6 320 251.6 320 150.6 221.4 150.6 221.4 251ZM264.1 180.4 261.2 179.2 259.1 177.5 258.5 176.4 258.2 175.3 258.4 174.2 259 173 260.8 171.3 264.1 169.9 268 169.4 271.8 169.9 275.1 171.1 277.2 173 277.8 174.2 278 175.3 277.5 177 276.5 178.1 275.1 179.2 272.3 180.3 268 180.9 264.7 180.5Z" fill="#c3d5f4" fill-rule="evenodd"/>
<path d="M221.4 251.6 320 251.6 320 150.6 221.4 150.6 221.4 251ZM263 184.3 258.6 183.5 254.1 182 251 180.3 248.7 178.1 248.1 177 247.7 175.3 248.2 171.5 249.9 168 251.5 165.8 254.8 162.9 256.7 161.8 259.1 160.7 263 159.5 267.4 159 270.7 159.1 276.2 159.6 279.5 160.1 282.8 161 287.2 162.4 291 164.1 293.7 165.8 296.2 168 298.1 170.2 299.2 172.5 299.4 175.3 299.2 176.4 298.6 177.5 296.5 179.2 293.1 180.9 289.7 182 284.9 183.1 277.8 184.1 272.9 184.5 267.4 184.6 263.6 184.4Z" fill="#d5dbe5" fill-rule="evenodd"/>
<path d="M221.4 251.6 320 251.6 320 191.7 280.6 191.5 252.6 191.5 246.6 191.1 244.4 190.1 242.8 188.8 241.5 187.1 240.9 185.9 240.3 183.7 240.2 150.6 221.4 150.6 221.4 251ZM313.6 159 320 159.4 320 150.6 275.1 150.6 268.5 150.6 295.4 157.9 313.4 159Z" fill="#e5d8d1" fill-rule="evenodd"/>
<path d="M265.3 250.5 268 250.7 268.5 250.5 272.9 250.7 277.3 250.5 277.8 250.7 280.5 250.5 283.3 250 283.8 250.1 286.6 249.5 288.3 249.4 289.9 248.8 290.4 248.9 292.1 248.3 292.6 248.4 294.3 247.7 295 247.7 295.9 247.2 296.8 247.1 297.5 246.6 298.1 246.7 299.2 246 299.7 246 301.9 244.9 302.5 244.8 303 244.4 303.6 244.3 304.1 243.8 304.7 243.8 305.2 243.3 305.8 243.2 306.3 242.6 308.6 241.5 309 240.9 310.1 240.4 311.2 239.3 312.4 238.7 314.8 236.4 316.7 234.2 317.3 233.1 318 232.5 318.4 231.4 318.9 231 319.1 230.3 319.6 229.7 319.6 229.2 320 228.9 320 215.4 319.6 215.1 318.9 213.8 314.5 209.5 311.2 207.2 307.4 205 299.6 201.7 289.9 198.7 280 196.9 271.8 195.8 262.5 195.6 258.1 196 257.6 195.9 253.2 196.4 245.5 198.1 243.9 198.8 243.2 198.9 242.2 199.4 241.7 199.4 237.8 201.1 233.2 203.9 229.6 207.3 229 208.4 228.3 209 226.7 212.3 226.8 212.9 226.3 214.6 226.2 217.9 226.3 219.7 226.8 221.3 226.7 221.9 227.3 223.5 227.4 224.7 227.8 225.2 228 226.2 228.5 226.9 228.5 227.5 229 228 229 228.6 229.6 229.2 230.6 231.4 232.9 234.5 233.4 234.8 235.3 237 237.3 238.7 237.6 239.3 241.3 242.1 243.3 243.4 244.4 243.7 245 244.3 245.5 244.4 247.1 245.4 247.7 245.5 248.3 246 252.5 247.7 256.5 248.9 257.6 249 259.2 249.5 259.7 249.4 261.2 249.9 262.5 250.1 263 250 265.2 250.5Z" fill="#f1ccb8" fill-rule="evenodd"/>
<path d="M272.9 240.9 281.1 240.9 281.7 240.4 284.4 240.4 284.9 239.9 286 239.8 286.6 239.3 287.7 239.3 288.2 238.7 289.3 238.7 291 237.6 291.5 237.6 292.6 236.5 293.2 236.5 297 232.5 297 232 297.6 231.4 297.6 230.8 298.6 229.2 298.7 227.5 299.2 226.9 299.2 223.5 298.7 223 298.7 221.3 298.2 220.7 298.1 219.6 297.6 219.1 297.6 218.5 297.1 217.9 297 217.4 296.5 216.8 296.5 216.2 295.4 215.1 295.4 214.6 289.3 208.4 288.8 208.3 287.1 206.7 286.6 206.6 285.5 205.6 283.8 204.9 282.8 203.9 281.1 203.3 280.6 202.8 280 202.7 279.5 202.2 278.9 202.2 278.4 201.7 277.3 201.6 275.6 200.5 274.5 200.5 274 200 272.3 199.9 271.8 199.4 270.2 199.3 269.6 198.8 268.5 198.8 267.4 198.8 266.9 198.3 257.6 198.3 257 198.8 255.4 198.8 254.8 199.4 253.2 199.4 251.5 200.5 250.4 200.5 249.3 201.6 248.8 201.6 247.7 202.7 247.1 202.8 245.5 204.5 245.5 205 244.4 206.1 244.4 206.7 243.3 208.4 243.2 209.5 242.7 210.1 242.7 212.3 242.2 212.9 242.2 215.7 242.7 216.2 242.8 219.1 243.3 219.6 243.3 220.7 244.3 222.4 244.4 223 244.9 223.5 244.9 224.1 245.4 224.7 245.5 225.2 246.5 226.3 246.6 226.9 248.7 229.2 248.8 229.7 249.9 230.8 250.4 230.9 253.2 233.6 253.7 233.7 254.8 234.8 255.4 234.8 255.9 235.4 256.5 235.4 257 235.9 257.6 236 258.1 236.5 258.6 236.5 259.2 237 259.7 237.1 261.4 238.1 262.5 238.2 263 238.7 264.1 238.8 264.7 239.3 266.3 239.3 266.9 239.8 268.5 239.9 269.1 240.4 272.3 240.5Z" fill="#f7ba9f" fill-rule="evenodd"/>
<path d="M272.1 233.6 276.2 233.9 280 233.4 283.3 232.4 286 231 288.2 229.2 289.7 226.9 290.5 224.1 290.4 221.3 289.6 218.5 288.1 215.7 285.5 212.6 282.2 209.7 278.9 207.6 275.1 205.7 270.7 204.2 267.4 203.5 263.6 203.3 259.7 203.6 255.9 204.7 253.3 206.1 251 208.3 249.7 210.6 249 213.4 249.2 216.2 250.2 219.6 251.7 222.4 254 225.2 257 227.9 260.3 230 264.1 231.7 267.4 232.8 271.8 233.6Z" fill="#f6a586" fill-rule="evenodd"/>
<path d="M269.9 228 272.9 228.2 275.6 228 278.9 226.9 280.4 225.8 281.7 224.3 282.2 223.3 282.7 220.7 282.3 218.5 281.7 217 280 214.6 278.3 212.9 274 210.1 271.2 209 268.5 208.3 265.2 208.1 261.9 208.4 259.1 209.5 257.5 210.6 256.5 211.9 255.9 212.9 255.5 215.7 255.9 217.9 256.5 219.2 257.6 220.9 259.4 223 261.4 224.7 264.5 226.3 267.4 227.5 269.6 228Z" fill="#f08b6e" fill-rule="evenodd"/>
<path d="M293 149.6H321V155.8Z" fill="#fff"/>
</g>
<path d="M254.3 150.6V251.6M287.1 150.6V251.6M221.4 234.8H320M221.4 217.9H320M221.4 201.1H320M221.4 184.3H320M221.4 167.4H320" stroke="#b8b8b8" stroke-opacity="0.3" stroke-width="0.8" fill="none"/>
<path d="M257 188 257.1 187.3 257.3 186.6 257.1 185.8 257.3 185.1 257.6 184.4 257.4 183.7 257.7 183 257.3 182.2 257.5 181.5 257.4 180.8 257.8 180.1 257.9 179.4 258.1 178.5 258.7 178.1 260 178.5 260.7 178.9 261.3 179.4 261.9 179.9 262.6 180.3 263.3 180.7 263.9 181.3 264.8 180.7 265.1 179.8 265.2 179 265.5 178.2 265.4 177.3 265.9 176.6 266.1 175.8 266.3 175.1 266.8 174.4 267.2 173.7 268.2 172.8 269.5 172.4 270.8 171.9 270.9 171.1 271.3 170.2 271.5 169.4 271.5 168.5 271.7 167.6 271.7 166.9 272.2 166.2 272.4 165.5 273.4 165.9 274 166.7 274.7 167.2 275.6 166.5 276.2 165.9 276.9 165.5 277.7 165.3 278.6 165.3 279.3 165.6 279.9 165.9 280 166.7 280.2 167.4 280.8 168 281 169 281.1 169.9 281.6 170.7 281.6 171.6 282.1 172.4 282.2 173.2 282.7 174 282.5 174.8 282.7 175.6 282.9 176.4 283.2 177.1 283.5 177.8 283.6 178.6 283.8 179.4 284.2 180.2 284.5 181.1 284.7 181.7 284.8 182.5 284.7 183.2 284.6 183.9 284.9 184.6 284.8 185.3 285 186 285.1 186.8 285 187.5 285.2 188.2 285.2 189 285.1 189.7 285.4 190.4 285.2 191.2 285.3 191.9 285.1 192.6 285.1 193.4 285.3 194.1 285.2 194.8 285.2 195.5 285.4 196.3 285.2 197 285.4 197.7 285.3 198.4 285.4 199.2 285.3 199.9 285.3 200.7 285.5 201.5 285.3 202.3 284.9 203 285.1 203.8 284.9 204.8 284.4 205.7 284.1 206.5 284.1 207.3 283.9 208 284 208.8 283.9 209.6 283.7 210.3 283.9 211.1 283.8 211.8 283.4 212.5 283.5 213.3 283.4 214.1 283.3 214.8 283.2 215.6 282.9 216.3 282.7 217.1 282.8 218 282.4 218.7 281.7 219.3 281.4 220.2 281 220.8 280.8 221.5 280.5 222.1 280.1 222.8 280 223.5 279.5 224.1 278.6 224.7 278.1 225.5 277.6 226.5 277.6 227.5 276.8 227.7 276.1 228.2 275.4 228.6 274.7 229 273.7 229 272.8 229.5 272.1 229.1 271.3 229 270.9 228.2 270.3 227.5 270.3 226.6 269.8 225.8 269.4 225 269 224.5 268.8 223.8 268.4 223.1 267.8 222.5 267.4 221.6 266.6 221.2 266 220.4 265.1 220.1 264.1 220 263.1 220 262.1 220.2 261.5 219.7 260.7 219.7 260.4 218.9 259.7 218.3 259.5 217.6 259 217 259 216.2 258.8 215.4 259 214.6 258.8 213.9 258.6 213.1 258.5 212.3 258.5 211.5 258.3 210.7 258.3 210 258.2 209.2 258.7 208.4 258.5 207.6 258.5 206.8 258.1 206.1 258.2 205.3 257.9 204.6 258.1 203.8 257.9 203 258.1 202.2 258 201.5 257.8 200.7 257.8 199.9 257.3 199 257.1 198 257.1 197.2 257.3 196.4 256.9 195.7 256.6 194.9 256.8 194.1 256.6 193.3 256.6 192.6 257.2 191.8 256.9 191.1 257.1 190.3 256.8 189.5 256.8 188.8 257 188" stroke="#1a1a1a" stroke-width="0.75" fill="none" stroke-linejoin="round"/>
<rect x="221.4" y="150.6" width="98.6" height="101" fill="none" stroke="#6e6e6e" stroke-width="0.9"/>
<path d="M221.4 251.6v1.8M254.3 251.6v1.8M287.1 251.6v1.8M320 251.6v1.8M221.4 251.6h-1.8M221.4 234.8h-1.8M221.4 217.9h-1.8M221.4 201.1h-1.8M221.4 184.3h-1.8M221.4 167.4h-1.8M221.4 150.6h-1.8" stroke="#6e6e6e" stroke-width="0.7"/>
<clipPath id="c12"><rect x="341.4" y="150.6" width="99.2" height="101"/></clipPath>
<g clip-path="url(#c12)">
<path d="M388.2 238.7 408 213.1 409.8 200 411.1 186.9 393.2 158.2 369.6 195.6 368.2 209.2Z" fill="#c3d5f4" fill-rule="evenodd"/>
<path d="M410.9 189.1 403.9 192.3 400.8 192.2 392.6 190.2 394.8 184.9 390.2 174.4 389.6 173.6 388.8 170 389.2 165.2 388.3 166 369.6 195.6 368.2 209.2 388.2 238.7 408 213.1 409.8 200Z" fill="#d5dbe5" fill-rule="evenodd"/>
<path d="M409.6 201.5 404.4 201.8 402.4 200.7 391.5 195.5 389.1 195.6 385.7 193.5 386.2 185.7 386.9 183.9 385.9 181.6 383.7 178.9 383.4 177.2 383.5 175 381.4 176.9 369.6 195.6 368.2 209.2 388.2 238.7 408 213.1Z" fill="#e5d8d1" fill-rule="evenodd"/>
<path d="M408.9 206.6 406 206.8 400.3 203.7 392.4 199.9 390.3 199.8 387.2 200 379.8 195.6 380.1 191.7 378.4 186.6 377.2 185.4 374.5 187.8 369.6 195.6 368.2 209.2 388.2 238.7 408 213.1Z" fill="#f1ccb8" fill-rule="evenodd"/>
<path d="M408.2 211.7 407.6 211.7 398.3 206.6 393.3 204.2 390 204.1 385.3 204.5 378.8 200.6 375.9 205.3 372.4 202.7 368.2 209.2 388.2 238.7 408 213.1Z" fill="#f7ba9f" fill-rule="evenodd"/>
<path d="M391.5 234.4 399.9 220.9 400 218.2 402.4 212.9 394.2 208.6 389.8 208.4 383.4 208.9 381.5 207.7 379.8 210.4 380.9 216.2 380.7 218.9 378.4 220.5 385.7 235 388.2 238.7Z" fill="#f6a586" fill-rule="evenodd"/>
</g>
<path d="M374.5 150.6V251.6M407.5 150.6V251.6M341.4 234.8H440.6M341.4 217.9H440.6M341.4 201.1H440.6M341.4 184.3H440.6M341.4 167.4H440.6" stroke="#b8b8b8" stroke-opacity="0.3" stroke-width="0.8" fill="none"/>
<path d="M377.2 188 377.3 187.3 377.5 186.6 377.3 185.8 377.5 185.1 377.8 184.4 377.6 183.7 378 183 377.6 182.2 377.7 181.5 377.7 180.8 378 180.1 378.1 179.4 378.3 178.5 379 178.1 380.3 178.5 380.9 178.9 381.6 179.4 382.2 179.9 382.9 180.3 383.6 180.7 384.2 181.3 385.1 180.7 385.4 179.8 385.5 179 385.7 178.2 385.6 177.3 386.2 176.6 386.4 175.8 386.6 175.1 387.1 174.4 387.5 173.7 388.5 172.8 389.8 172.4 391.1 171.9 391.2 171.1 391.6 170.2 391.8 169.4 391.8 168.5 392 167.6 392 166.9 392.5 166.2 392.7 165.5 393.7 165.9 394.3 166.7 395.1 167.2 395.9 166.5 396.5 165.9 397.2 165.5 398.1 165.3 398.9 165.3 399.6 165.6 400.3 165.9 400.3 166.7 400.6 167.4 401.2 168 401.3 169 401.5 169.9 402 170.7 402 171.6 402.5 172.4 402.6 173.2 403 174 402.9 174.8 403.1 175.6 403.3 176.4 403.6 177.1 403.9 177.8 404 178.6 404.2 179.4 404.5 180.2 404.9 181.1 405.1 181.7 405.1 182.5 405.1 183.2 404.9 183.9 405.2 184.6 405.2 185.3 405.4 186 405.5 186.8 405.4 187.5 405.6 188.2 405.6 189 405.5 189.7 405.8 190.4 405.6 191.2 405.7 191.9 405.5 192.6 405.5 193.4 405.7 194.1 405.6 194.8 405.6 195.5 405.8 196.3 405.6 197 405.8 197.7 405.6 198.4 405.8 199.2 405.7 199.9 405.7 200.7 405.9 201.5 405.7 202.3 405.2 203 405.5 203.8 405.3 204.8 404.7 205.7 404.5 206.5 404.5 207.3 404.3 208 404.4 208.8 404.3 209.6 404.1 210.3 404.3 211.1 404.2 211.8 403.8 212.5 403.9 213.3 403.8 214.1 403.7 214.8 403.6 215.6 403.3 216.3 403.1 217.1 403.1 218 402.8 218.7 402.1 219.3 401.8 220.2 401.4 220.8 401.2 221.5 400.9 222.1 400.4 222.8 400.3 223.5 399.9 224.1 399 224.7 398.4 225.5 398 226.5 397.9 227.5 397.1 227.7 396.5 228.2 395.8 228.6 395 229 394 229 393.1 229.5 392.4 229.1 391.6 229 391.2 228.2 390.6 227.5 390.6 226.6 390.1 225.8 389.7 225 389.3 224.5 389 223.8 388.7 223.1 388 222.5 387.7 221.6 386.9 221.2 386.3 220.4 385.3 220.1 384.3 220 383.3 220 382.3 220.2 381.7 219.7 380.9 219.7 380.6 218.9 379.9 218.3 379.7 217.6 379.2 217 379.2 216.2 379 215.4 379.2 214.6 379 213.9 378.8 213.1 378.7 212.3 378.7 211.5 378.6 210.7 378.5 210 378.5 209.2 379 208.4 378.7 207.6 378.7 206.8 378.4 206.1 378.4 205.3 378.1 204.6 378.3 203.8 378.1 203 378.3 202.2 378.2 201.5 378.1 200.7 378 199.9 377.5 199 377.3 198 377.3 197.2 377.5 196.4 377.1 195.7 376.8 194.9 377 194.1 376.8 193.3 376.8 192.6 377.4 191.8 377.1 191.1 377.3 190.3 377 189.5 377 188.8 377.2 188" stroke="#1a1a1a" stroke-width="0.75" fill="none" stroke-linejoin="round"/>
<g fill="#000"><rect x="392.5" y="157.5" width="1.5" height="1.5"/><rect x="392" y="164.2" width="1.5" height="1.5"/><rect x="391.4" y="170.6" width="1.5" height="1.5"/><rect x="377.9" y="182.6" width="1.5" height="1.5"/><rect x="384" y="182.9" width="1.5" height="1.5"/><rect x="397.4" y="184.6" width="1.5" height="1.5"/><rect x="403.5" y="184.9" width="1.5" height="1.5"/><rect x="410.4" y="186.1" width="1.5" height="1.5"/><rect x="389.9" y="191" width="1.5" height="1.5"/><rect x="368.9" y="194.8" width="1.5" height="1.5"/><rect x="376.6" y="195.7" width="1.5" height="1.5"/><rect x="402.8" y="198.2" width="1.5" height="1.5"/><rect x="409.1" y="199.2" width="1.5" height="1.5"/><rect x="367.4" y="208.5" width="1.5" height="1.5"/><rect x="374.4" y="209" width="1.5" height="1.5"/><rect x="381.9" y="210.1" width="1.5" height="1.5"/><rect x="388.9" y="210.8" width="1.5" height="1.5"/><rect x="394.1" y="211" width="1.5" height="1.5"/><rect x="400.6" y="212.1" width="1.5" height="1.5"/><rect x="407.3" y="212.4" width="1.5" height="1.5"/><rect x="388.9" y="217.8" width="1.5" height="1.5"/><rect x="388.1" y="224.5" width="1.5" height="1.5"/><rect x="387.8" y="231.1" width="1.5" height="1.5"/><rect x="387.4" y="237.9" width="1.5" height="1.5"/></g>
<rect x="341.4" y="150.6" width="99.2" height="101" fill="none" stroke="#6e6e6e" stroke-width="0.9"/>
<path d="M341.4 251.6v1.8M374.5 251.6v1.8M407.5 251.6v1.8M440.6 251.6v1.8M341.4 251.6h-1.8M341.4 234.8h-1.8M341.4 217.9h-1.8M341.4 201.1h-1.8M341.4 184.3h-1.8M341.4 167.4h-1.8M341.4 150.6h-1.8" stroke="#6e6e6e" stroke-width="0.7"/>
<rect x="152.7" y="241.3" width="5.2" height="6.1" fill="#663a07"/>
<rect x="152.7" y="235.5" width="5.2" height="6.1" fill="#874e0a"/>
<rect x="152.7" y="229.8" width="5.2" height="6.1" fill="#a96c1e"/>
<rect x="152.7" y="224.1" width="5.2" height="6.1" fill="#c58e3d"/>
<rect x="152.7" y="218.3" width="5.2" height="6.1" fill="#d9b76f"/>
<rect x="152.7" y="212.6" width="5.2" height="6.1" fill="#e9d39d"/>
<rect x="152.7" y="206.8" width="5.2" height="6.1" fill="#f6e9c7"/>
<rect x="152.7" y="201.1" width="5.2" height="6.1" fill="#f5f1e6"/>
<rect x="152.7" y="195.4" width="5.2" height="6.1" fill="#e6f1f0"/>
<rect x="152.7" y="189.6" width="5.2" height="6.1" fill="#cbebe6"/>
<rect x="152.7" y="183.9" width="5.2" height="6.1" fill="#9dd9d0"/>
<rect x="152.7" y="178.1" width="5.2" height="6.1" fill="#70c1b6"/>
<rect x="152.7" y="172.4" width="5.2" height="6.1" fill="#419f97"/>
<rect x="152.7" y="166.7" width="5.2" height="6.1" fill="#1d8078"/>
<rect x="152.7" y="160.9" width="5.2" height="6.1" fill="#016259"/>
<rect x="152.7" y="155.2" width="5.2" height="6.1" fill="#00483d"/>
<path d="M152.7 155.5L155.3 150.6L157.9 155.5Z" fill="#003c30"/>
<path d="M152.7 246.7L155.3 251.6L157.9 246.7Z" fill="#543005"/>
<text x="161.3" y="250.5" font-size="10.1" text-anchor="start" fill="#1a1a1a" textLength="22.8" lengthAdjust="spacingAndGlyphs" >−1.6</text>
<text x="161.3" y="227.6" font-size="10.1" text-anchor="start" fill="#1a1a1a" textLength="22.8" lengthAdjust="spacingAndGlyphs" >−0.8</text>
<text x="161.3" y="204.6" font-size="10.1" text-anchor="start" fill="#1a1a1a" textLength="15" lengthAdjust="spacingAndGlyphs" >0.0</text>
<text x="161.3" y="181.6" font-size="10.1" text-anchor="start" fill="#1a1a1a" textLength="15" lengthAdjust="spacingAndGlyphs" >0.8</text>
<text x="161.3" y="158.7" font-size="10.1" text-anchor="start" fill="#1a1a1a" textLength="15" lengthAdjust="spacingAndGlyphs" >1.6</text>
<path d="M157.9 247h1.8M157.9 224.1h1.8M157.9 201.1h1.8M157.9 178.1h1.8M157.9 155.2h1.8" stroke="#6e6e6e" stroke-width="0.7"/>
<text transform="translate(194 201.1) rotate(-90)" font-size="10" text-anchor="middle" fill="#1a1a1a" textLength="40.8" lengthAdjust="spacingAndGlyphs"><tspan font-style="italic">U</tspan><tspan font-style="italic" font-size="7" dy="1.6">Y</tspan><tspan dy="-1.6"> [mm]</tspan></text>
<rect x="455.4" y="241.3" width="5" height="6.1" fill="#445acc"/>
<rect x="455.4" y="235.5" width="5" height="6.1" fill="#5875e1"/>
<rect x="455.4" y="229.8" width="5" height="6.1" fill="#6c8ff1"/>
<rect x="455.4" y="224.1" width="5" height="6.1" fill="#82a6fb"/>
<rect x="455.4" y="218.3" width="5" height="6.1" fill="#98b9ff"/>
<rect x="455.4" y="212.6" width="5" height="6.1" fill="#aec9fc"/>
<rect x="455.4" y="206.8" width="5" height="6.1" fill="#c3d5f4"/>
<rect x="455.4" y="201.1" width="5" height="6.1" fill="#d5dbe5"/>
<rect x="455.4" y="195.4" width="5" height="6.1" fill="#e5d8d1"/>
<rect x="455.4" y="189.6" width="5" height="6.1" fill="#f1ccb8"/>
<rect x="455.4" y="183.9" width="5" height="6.1" fill="#f7ba9f"/>
<rect x="455.4" y="178.1" width="5" height="6.1" fill="#f6a586"/>
<rect x="455.4" y="172.4" width="5" height="6.1" fill="#f08b6e"/>
<rect x="455.4" y="166.7" width="5" height="6.1" fill="#e46e56"/>
<rect x="455.4" y="160.9" width="5" height="6.1" fill="#d44e41"/>
<rect x="455.4" y="155.2" width="5" height="6.1" fill="#be242e"/>
<path d="M455.4 155.5L457.9 150.6L460.4 155.5Z" fill="#b40426"/>
<path d="M455.4 246.7L457.9 251.6L460.4 246.7Z" fill="#3b4cc0"/>
<text x="463.8" y="250.5" font-size="10.1" text-anchor="start" fill="#1a1a1a" textLength="19.9" lengthAdjust="spacingAndGlyphs" >−14</text>
<text x="463.8" y="227.6" font-size="10.1" text-anchor="start" fill="#1a1a1a" textLength="13.9" lengthAdjust="spacingAndGlyphs" >−7</text>
<text x="463.8" y="204.6" font-size="10.1" text-anchor="start" fill="#1a1a1a" textLength="6" lengthAdjust="spacingAndGlyphs" >0</text>
<text x="463.8" y="181.6" font-size="10.1" text-anchor="start" fill="#1a1a1a" textLength="6" lengthAdjust="spacingAndGlyphs" >7</text>
<text x="463.8" y="158.7" font-size="10.1" text-anchor="start" fill="#1a1a1a" textLength="12" lengthAdjust="spacingAndGlyphs" >14</text>
<path d="M460.4 247h1.8M460.4 224.1h1.8M460.4 201.1h1.8M460.4 178.1h1.8M460.4 155.2h1.8" stroke="#6e6e6e" stroke-width="0.7"/>
<text transform="translate(493.6 201.1) rotate(-90)" font-size="9.5" text-anchor="middle" fill="#1a1a1a" textLength="39.5" lengthAdjust="spacingAndGlyphs"><tspan font-style="italic">U</tspan><tspan font-style="italic" font-size="7" dy="1.6">Y</tspan><tspan dy="-1.6"> [cm]</tspan></text>
<clipPath id="c20"><rect x="39" y="262.2" width="98.6" height="100.2"/></clipPath>
<g clip-path="url(#c20)">
<path d="M39 362.4 137.6 362.4 137.6 262.2 39 262.2 39 361.8Z" fill="#543005" fill-rule="evenodd"/>
<path d="M39 362.4 137.6 362.4 137.6 262.2 39 262.2 39 361.8ZM79.5 316.3 78.4 315.2 77.9 314 77.7 312.3 78 310.6 78.6 309.5 79.5 308.6 80.6 308.2 82 308.4 82.9 309 83.9 310.5 84.2 311.7 84.2 313.4 83.5 315.1 82.8 315.9 81.7 316.6 80.1 316.6Z" fill="#5b3406" fill-rule="evenodd"/>
<path d="M39 362.4 137.6 362.4 137.6 262.2 39 262.2 39 361.8ZM79.5 322.9 77.9 322.3 76.5 321.2 75.2 319.7 74.1 317.8 73.5 316.2 73 312.9 73.5 309 74.1 307.1 75.2 305.1 77.3 302.9 78.4 302.3 80.6 301.8 83.4 302.2 84.6 302.8 86.1 304 87.8 306.1 88.3 307.2 88.8 308.7 89.3 311.2 89.3 314 88.9 316.2 88.3 317.6 87.2 319.5 86.1 320.8 85 321.8 82.8 322.8 80.1 323Z" fill="#6e4007" fill-rule="evenodd"/>
<path d="M39 362.4 137.6 362.4 137.6 262.2 39 262.2 39 361.8ZM78.4 325.3 76.2 324.2 74.6 322.9 73.2 321.2 71.9 319 71.1 316.8 70.6 314 70.5 311.7 70.9 309 71.7 306.2 72.7 303.9 74.1 302.1 75.7 300.6 77.3 299.6 79.5 298.9 81.7 298.8 83.9 299.2 86.1 300.3 87.8 301.6 89.4 303.4 90.5 305.2 91.4 307.3 92 310.1 92.2 312.9 92 315.1 91.4 317.3 90.4 319.5 88.9 321.8 87.2 323.4 85.3 324.5 83.4 325.3 81.2 325.6 79 325.4Z" fill="#804a09" fill-rule="evenodd"/>
<path d="M39 362.4 137.6 362.4 137.6 262.2 39 262.2 39 361.8ZM79 328 76.2 327.1 74.1 325.7 71.9 323.6 70.2 321.2 69 318.4 68.3 315.1 68.1 312.3 68.4 309 69.1 305.8 70.2 303.2 71.9 300.6 74.1 298.3 76.2 296.9 78.4 296 81.2 295.8 84 296.2 86.7 297.2 89.2 298.9 91 300.9 92.7 303.3 93.8 305.6 94.7 309 94.9 311.2 94.9 314.6 94.3 317.3 93.2 320.1 91.6 322.6 89.9 324.5 87.6 326.2 85 327.4 82.3 328.1 79.5 328.1Z" fill="#8f540c" fill-rule="evenodd"/>
<path d="M39 362.4 137.6 362.4 137.6 262.2 39 262.2 39 361.8ZM79.5 330.7 76.8 330.1 74.1 328.8 71.3 326.6 69.2 324 67.5 320.6 66.4 317.3 66 314 66 310.1 66.7 306.2 67.9 302.8 69.7 299.6 71.9 297 74.6 294.8 77.3 293.6 80.1 293.1 83.4 293.3 86.1 294.1 88.8 295.6 91.4 297.8 93.6 300.6 95.3 303.9 96.4 307.3 96.9 311.2 96.9 314.5 96.3 317.9 95 321.2 93.2 324.2 91 326.7 88.8 328.4 86.1 329.8 83.4 330.6 80.1 330.8Z" fill="#a16518" fill-rule="evenodd"/>
<path d="M39 362.4 137.6 362.4 137.6 262.2 39 262.2 39 361.8ZM80.6 333.5 77.3 333 74.1 331.7 70.9 329.6 68.3 326.8 66.3 323.4 64.8 319.5 64 315.6 63.8 311.2 64.3 306.7 65.5 302.8 67.3 298.9 69.7 295.8 72.4 293.3 75.7 291.4 79 290.5 82.3 290.5 85.6 291.1 88.8 292.7 91.6 294.7 94.3 297.7 96.4 301.2 97.7 304.5 98.6 308.4 98.9 312.9 98.6 316.8 97.5 320.6 96 324 93.6 327.3 91 329.8 87.8 331.9 84.5 333.1 81.2 333.5Z" fill="#b17423" fill-rule="evenodd"/>
<path d="M39 362.4 137.6 362.4 137.6 262.2 39 262.2 39 361.8ZM77.3 335.7 75.3 335.1 73 334 69.8 331.8 66.9 328.8 64.7 325.4 63.1 321.6 61.9 316.8 61.6 312.3 62 307.3 63.1 302.9 64.7 298.9 67.5 294.7 70.5 291.7 71.9 290.6 73.8 289.5 76.8 288.3 80.6 287.8 82.5 287.8 85 288.3 88.3 289.5 91.7 291.7 94.9 294.8 97.6 298.8 99.5 303.4 100.6 307.8 100.9 312.3 100.6 316.8 99.5 321.2 97.8 325.1 95.4 328.7 92.4 331.8 89.1 334 85 335.6 81.2 336.1 77.9 335.8Z" fill="#c08430" fill-rule="evenodd"/>
<path d="M39 362.4 137.6 362.4 137.6 262.2 39 262.2 39 361.8ZM76.8 337.4 73 336 69.1 333.6 65.8 330.4 63.1 326.4 61.3 322.3 60 317.3 59.6 312.3 60 307.3 61.3 302.3 63.3 297.8 66 293.9 69.4 290.6 73 288.3 77.3 286.8 81.2 286.4 85.6 287 89.4 288.4 93.2 290.8 96.6 293.9 99.4 297.8 101.5 302.3 102.8 306.7 103.4 311.7 103.1 316.8 101.8 321.8 99.8 326.2 97 330.1 93.8 333.2 90 335.7 86.1 337.2 81.7 337.9 77.3 337.5Z" fill="#ca9849" fill-rule="evenodd"/>
<path d="M39 362.4 137.6 362.4 137.6 262.2 39 262.2 39 361.8ZM80.1 339.6 75.7 338.9 71.3 337.2 67.4 334.6 63.6 330.7 60.8 326.2 58.8 321.2 57.8 316.2 57.6 310.6 58.4 305.1 60.1 300.1 62.6 295.6 65.8 291.7 69.7 288.6 74.1 286.3 78.4 285.3 83.4 285.3 87.8 286.2 92.5 288.4 96.3 291.1 100 295 102.8 299.5 104.6 303.9 105.7 309 105.8 314 105.1 319 103.4 324 101 328.4 97.8 332.3 94.3 335.3 89.9 337.7 85.6 339.1 80.6 339.6Z" fill="#d4ac62" fill-rule="evenodd"/>
<path d="M39 362.4 137.6 362.4 137.6 262.2 39 262.2 39 361.8ZM79.5 341.3 74.6 340.4 72.2 339.6 69.7 338.3 65.3 335.2 61.6 331.2 58.7 326.5 56.7 321.2 55.7 315.6 55.6 310.1 56.5 304.5 58.3 299.5 61.2 294.5 64.7 290.5 69 287.2 73.7 285 78.4 284 81.2 283.8 83.9 284 88.8 285.1 93.8 287.3 98.4 290.6 102.1 294.5 105 298.9 107.1 303.9 108.1 309 108.3 314.5 107.3 320.1 105.5 325.1 102.9 329.6 99.3 333.8 94.9 337.2 90.5 339.5 85.6 340.9 80.1 341.3Z" fill="#dec17b" fill-rule="evenodd"/>
<path d="M39 362.4 137.6 362.4 137.6 262.2 39 262.2 39 361.8ZM78.4 342.9 75.7 342.5 73 341.7 68 339.5 63.6 336.2 61.5 334 59.7 331.8 57.8 329 56.5 326.5 54.5 320.6 53.5 314.5 53.7 308.4 54.9 302.8 57.3 297.3 59 294.5 60.7 292.3 64.7 288.4 67 286.7 69.7 285.2 74.6 283.3 77.3 282.8 80.1 282.5 85.6 282.9 91 284.4 96 286.7 100.6 290 102.9 292.3 104.7 294.5 107.8 299.5 109.7 304.5 110.7 310.1 110.6 315.6 109.5 321.2 107.3 326.8 104.2 331.6 100.3 335.7 95.6 339 90.5 341.4 85 342.7 81.7 343 79 343Z" fill="#e6cd92" fill-rule="evenodd"/>
<path d="M39 362.4 137.6 362.4 137.6 262.2 39 262.2 39 361.8ZM77.9 344.6 75.7 344.3 71.9 343.3 66.9 341 63.6 338.7 62 337.3 59.4 334.6 57.2 331.8 54.2 326.2 52.3 320.6 51.8 317.9 51.4 314 51.4 311.2 51.8 307.3 53 302.3 54 299.5 55.7 296.2 59.3 291.1 61.5 288.9 64.2 286.7 69 283.9 73.5 282.2 76.2 281.6 80.1 281.3 86.3 281.7 89 282.2 92.6 283.4 97.4 285.6 100 287.2 102.5 289.2 106.6 293.4 109.9 298.4 112.2 303.9 113.2 309.5 113.2 315.6 112.2 321.2 111 324.5 109.4 327.9 106 332.9 102 337 97.1 340.5 93.8 342.2 91 343.2 85.6 344.5 81.7 344.8 78.4 344.7Z" fill="#edd9a8" fill-rule="evenodd"/>
<path d="M39 362.4 137.6 362.4 137.6 262.2 39 262.2 39 361.8ZM79.5 347.4 76.2 347.1 73 346.4 69.7 345.3 66.4 343.8 63.6 342.1 60.9 340.1 58.5 337.9 56.1 335.1 54.1 332.3 52.4 329.6 50.9 326.2 49.7 322.9 48.9 319.5 48.4 315.6 48.2 312.3 48.4 309 49 305.6 49.8 302.8 51.1 299.5 52.6 296.7 54.4 293.9 56.7 291.1 58.9 288.9 61.6 286.7 64.2 285 67.4 283.4 70.2 282.2 73.5 281.3 79.5 280.4 82.8 280.5 86.7 280.8 93.2 282.3 96.3 283.4 100 285 102.9 286.7 106.1 288.9 111 293.4 114.8 298.4 116.3 301.2 117.4 303.9 118.2 306.7 118.7 309.5 118.9 312.3 118.7 315.6 118.2 319 117.5 321.8 116.3 325.1 114.9 327.9 113.2 330.7 111.1 333.5 108.6 336.2 106.1 338.5 103.1 340.7 100.4 342.4 97.1 344 93.8 345.3 87.2 346.9 83.4 347.3 80.1 347.4Z" fill="#f4e5be" fill-rule="evenodd"/>
<path d="M39 362.4 137.6 362.4 137.6 262.2 39 262.2 39 361.8ZM75.7 349.7 71.9 348.9 68.6 347.8 65.3 346.3 62 344.4 58.7 342 56.1 339.6 53.6 336.8 51.5 334 49.6 330.7 48 327.3 46.8 324 45.8 320.1 45.2 316.2 45.1 312.3 45.3 308.4 46 305.1 47.1 301.7 48.6 298.4 50.2 295.6 52.3 292.8 54.8 290 57.4 287.8 60.4 285.6 63.6 283.7 66.9 282.2 70.2 281.1 73.5 280.3 77.3 279.8 80.6 279.6 85 279.8 89.4 280.3 93.2 281 100.6 283.4 107.4 286.7 110.8 288.9 113.6 291.1 116 293.4 118.5 296.2 120.5 298.9 122 301.7 123.2 304.5 124 307.3 124.4 310.1 124.5 313.4 124.2 316.8 123.6 320.1 122.6 323.4 121.2 326.8 119.3 330.1 117.4 332.9 115.1 335.7 112.2 338.5 109.5 340.7 106.3 342.9 103.1 344.7 99.3 346.5 95.4 347.9 91.6 348.9 87.8 349.6 83.9 350 80.1 350.1 76.2 349.7Z" fill="#f6ebcf" fill-rule="evenodd"/>
<path d="M39 362.4 137.6 362.4 137.6 262.2 39 262.2 39 361.8ZM76.2 352.4 72.7 351.8 68.7 350.7 64.7 349.1 61.5 347.4 58.1 345.1 54.9 342.4 51.6 339 49.4 336.2 47.2 332.7 45.6 329.5 43.9 325.3 42.8 321.2 42.2 317.3 41.9 312.3 42.3 307.8 42.8 305.1 43.9 301.7 45.6 298.2 47.2 295.5 49.4 292.6 51.8 290 54.3 287.8 58.2 285.1 61.5 283.2 65 281.7 69.1 280.3 76.2 279 80.1 278.7 84.5 278.8 88.8 279.2 94.3 280 102.7 282.2 107 283.9 110.6 285.6 114.4 287.8 118.4 290.6 123.4 295.4 126.7 300.1 128.3 303.3 129.4 306.5 129.9 309.2 130.1 312.3 129.9 316.2 129.4 319.6 128.3 323.4 127.2 326.2 125.5 329.4 123.3 332.9 120.6 336.2 117.9 339 114.6 341.8 111.3 344.1 107.6 346.3 102.8 348.5 98.2 350.2 94 351.3 89.4 352.1 85 352.6 80.6 352.7 76.8 352.5Z" fill="#f5efde" fill-rule="evenodd"/>
<path d="M39 362.4 137.6 362.4 137.6 262.2 39 262.2 39 361.8ZM80.1 355.2 75.7 355 72.4 354.5 68 353.3 64.2 351.7 59.8 349.4 56.5 347.2 53.2 344.5 49.6 340.7 47.4 337.9 44.6 333.5 42.5 329 40.8 324 39.8 319 39.4 314 39.3 311.7 39.7 307.3 40.9 302.8 42 300.1 45.2 294.5 47.9 291.1 50.5 288.6 53.2 286.3 57.6 283.5 58.2 283.4 58.7 282.9 59.3 282.8 59.8 282.3 60.4 282.2 62 281.3 64.2 280.6 64.7 280.2 65.9 280 66.4 279.6 67.6 279.5 68.6 279 69.8 278.9 70.8 278.5 72.7 278.3 74.1 277.9 81.7 277.4 84.9 277.8 89.4 277.9 91.6 278.4 93.8 278.5 94.8 278.9 96.5 279 97.6 279.5 99.3 279.6 99.8 280 101.4 280.2 102 280.6 103.1 280.7 103.7 281.1 104.7 281.2 105.5 281.7 106.4 281.8 106.9 282.2 109.1 282.9 109.7 283.4 113 284.7 116.8 286.9 120.1 289.1 123.4 291.8 126.5 295 128.7 297.8 130.8 301.2 132 303.9 133 307.3 133.5 310.6 133.5 314.5 133.1 318.4 132 322.9 130.8 326.2 129.2 329.6 127.6 332.3 124.2 336.8 122.2 339 119.5 341.6 115.1 345 110.8 347.8 106.4 350 98.7 352.8 94.9 353.8 88.3 354.9 80.6 355.2Z" fill="#f5f3ee" fill-rule="evenodd"/>
<path d="M110.6 261.2H138.6V267.3Z" fill="#fff"/>
</g>
<path d="M71.9 262.2V362.4M104.7 262.2V362.4M39 345.7H137.6M39 329H137.6M39 312.3H137.6M39 295.6H137.6M39 278.9H137.6" stroke="#b8b8b8" stroke-opacity="0.3" stroke-width="0.8" fill="none"/>
<path d="M74.6 299.3 74.7 298.6 74.9 297.9 74.7 297.2 74.9 296.4 75.2 295.7 75 295 75.3 294.3 74.9 293.6 75.1 292.8 75 292.1 75.4 291.4 75.5 290.7 75.7 289.9 76.3 289.4 77.6 289.8 78.3 290.3 78.9 290.7 79.5 291.2 80.2 291.6 80.9 292 81.5 292.6 82.4 292 82.7 291.2 82.8 290.3 83.1 289.6 83 288.7 83.5 288 83.7 287.2 83.9 286.5 84.4 285.8 84.8 285.2 85.8 284.3 87.1 283.9 88.4 283.4 88.5 282.5 88.9 281.7 89.1 280.8 89.1 280 89.3 279.1 89.3 278.3 89.8 277.7 90 277 91 277.4 91.6 278.2 92.3 278.7 93.2 278 93.8 277.4 94.5 277 95.3 276.7 96.2 276.8 96.9 277.1 97.5 277.4 97.6 278.2 97.8 278.9 98.4 279.5 98.6 280.4 98.7 281.3 99.2 282.1 99.2 283 99.7 283.8 99.8 284.7 100.3 285.4 100.1 286.2 100.3 287 100.5 287.7 100.8 288.5 101.1 289.2 101.2 290 101.4 290.7 101.8 291.6 102.1 292.4 102.3 293.1 102.4 293.8 102.3 294.5 102.2 295.2 102.5 295.9 102.4 296.6 102.6 297.3 102.7 298.1 102.6 298.8 102.8 299.5 102.8 300.2 102.7 301 103 301.7 102.8 302.4 102.9 303.2 102.7 303.9 102.7 304.6 102.9 305.3 102.8 306.1 102.8 306.8 103 307.5 102.8 308.2 103 308.9 102.9 309.7 103 310.4 102.9 311.1 102.9 311.9 103.1 312.7 102.9 313.4 102.5 314.2 102.7 315 102.5 316 102 316.9 101.7 317.6 101.7 318.4 101.5 319.2 101.6 320 101.5 320.7 101.3 321.5 101.5 322.2 101.4 323 101 323.6 101.1 324.4 101 325.2 100.9 325.9 100.8 326.7 100.5 327.4 100.3 328.2 100.4 329 100 329.8 99.3 330.4 99 331.3 98.6 331.9 98.4 332.5 98.1 333.2 97.7 333.8 97.6 334.6 97.1 335.2 96.2 335.7 95.7 336.6 95.2 337.5 95.2 338.4 94.4 338.7 93.7 339.1 93 339.5 92.3 339.9 91.3 340 90.4 340.4 89.7 340 88.9 339.9 88.5 339.1 87.9 338.4 87.9 337.6 87.4 336.8 87 336.1 86.6 335.5 86.4 334.8 86 334.2 85.4 333.5 85 332.7 84.2 332.2 83.6 331.5 82.7 331.2 81.7 331.1 80.7 331 79.7 331.3 79.1 330.8 78.3 330.8 78 330 77.3 329.4 77.1 328.7 76.6 328 76.6 327.2 76.3 326.5 76.6 325.7 76.4 325 76.2 324.2 76.1 323.4 76.1 322.6 75.9 321.9 75.9 321.1 75.8 320.3 76.3 319.5 76.1 318.8 76.1 318 75.7 317.3 75.8 316.5 75.5 315.8 75.7 315 75.5 314.2 75.7 313.4 75.6 312.7 75.4 311.9 75.4 311.1 74.9 310.2 74.7 309.2 74.7 308.4 74.9 307.6 74.5 306.9 74.2 306.1 74.4 305.3 74.2 304.6 74.2 303.8 74.8 303.1 74.5 302.3 74.7 301.6 74.4 300.8 74.4 300.1 74.6 299.3" stroke="#1a1a1a" stroke-width="0.75" fill="none" stroke-linejoin="round"/>
<rect x="39" y="262.2" width="98.6" height="100.2" fill="none" stroke="#6e6e6e" stroke-width="0.9"/>
<path d="M39 362.4v1.8M71.9 362.4v1.8M104.7 362.4v1.8M137.6 362.4v1.8M39 362.4h-1.8M39 345.7h-1.8M39 329h-1.8M39 312.3h-1.8M39 295.6h-1.8M39 278.9h-1.8M39 262.2h-1.8" stroke="#6e6e6e" stroke-width="0.7"/>
<text x="35.8" y="365.5" font-size="8.5" text-anchor="end" fill="#1a1a1a" textLength="5.1" lengthAdjust="spacingAndGlyphs" >0</text>
<text x="35.8" y="348.8" font-size="8.5" text-anchor="end" fill="#1a1a1a" textLength="10.2" lengthAdjust="spacingAndGlyphs" >25</text>
<text x="35.8" y="332.1" font-size="8.5" text-anchor="end" fill="#1a1a1a" textLength="10.2" lengthAdjust="spacingAndGlyphs" >50</text>
<text x="35.8" y="315.4" font-size="8.5" text-anchor="end" fill="#1a1a1a" textLength="10.2" lengthAdjust="spacingAndGlyphs" >75</text>
<text x="35.8" y="298.7" font-size="8.5" text-anchor="end" fill="#1a1a1a" textLength="15.3" lengthAdjust="spacingAndGlyphs" >100</text>
<text x="35.8" y="282" font-size="8.5" text-anchor="end" fill="#1a1a1a" textLength="15.3" lengthAdjust="spacingAndGlyphs" >125</text>
<text x="35.8" y="265.3" font-size="8.5" text-anchor="end" fill="#1a1a1a" textLength="15.3" lengthAdjust="spacingAndGlyphs" >150</text>
<text x="39" y="372.7" font-size="8.5" text-anchor="middle" fill="#1a1a1a" textLength="5.1" lengthAdjust="spacingAndGlyphs" >0</text>
<text x="71.9" y="372.7" font-size="8.5" text-anchor="middle" fill="#1a1a1a" textLength="10.2" lengthAdjust="spacingAndGlyphs" >50</text>
<text x="104.7" y="372.7" font-size="8.5" text-anchor="middle" fill="#1a1a1a" textLength="15.3" lengthAdjust="spacingAndGlyphs" >100</text>
<text x="137.6" y="372.7" font-size="8.5" text-anchor="middle" fill="#1a1a1a" textLength="15.3" lengthAdjust="spacingAndGlyphs" >150</text>
<clipPath id="c21"><rect x="221.4" y="262.2" width="98.6" height="100.2"/></clipPath>
<g clip-path="url(#c21)">
<path d="M221.4 362.4 320 362.4 320 262.2 221.4 262.2 221.4 361.8Z" fill="#3f53c6" fill-rule="evenodd"/>
<path d="M221.4 362.4 320 362.4 320 262.2 221.4 262.2 221.4 361.8ZM266.3 320.1 264.1 319 262.5 317.3 261.4 315.6 260.3 312.3 260.3 306.7 260.6 306.2 261.4 303.6 262.5 301.7 264.1 300 266.1 298.9 268 298.6 270.7 298.9 272.7 300.1 274 301.2 275.1 302.8 276.2 305.1 276.3 306.2 276.7 307.3 276.7 311.8 275.6 315.2 273.4 318.4 270.7 320.1 268.5 320.4 266.9 320.2Z" fill="#4961d2" fill-rule="evenodd"/>
<path d="M221.4 362.4 320 362.4 320 262.2 221.4 262.2 221.4 361.8ZM266.3 322.4 264.7 321.7 263 320.6 261.4 318.8 260.1 316.8 259.2 314.5 258.6 311.7 258.5 309 258.7 306.7 259.3 304.5 260.3 302.3 261.4 300.6 263 298.9 264.7 297.8 266.9 297 268.5 296.9 270.7 297.2 272.9 298.2 274.5 299.5 276 301.2 277 302.8 277.9 305.1 278.4 307.3 278.5 309.5 278.3 312.3 277.8 314.5 276.7 317.1 275.5 319 274 320.5 272.3 321.6 270.7 322.3 268.5 322.6 266.9 322.5Z" fill="#536edd" fill-rule="evenodd"/>
<path d="M221.4 362.4 320 362.4 320 262.2 221.4 262.2 221.4 361.8ZM266.9 324.6 264.7 323.9 262.5 322.5 260.8 321 259.4 319 258.3 316.8 257.4 314 257 310.6 257 307.8 257.5 305.1 258.3 302.8 259.7 300.3 261.4 298.3 263.6 296.7 265.8 295.7 268 295.3 270.2 295.5 272.3 296.2 274.5 297.5 276.2 299 277.8 301.1 278.9 303.4 279.8 306.2 280.1 308.4 280.1 311.2 279.6 314 278.7 316.8 277.6 319 275.9 321.2 274 322.9 271.8 324.1 269.6 324.6 267.4 324.6Z" fill="#5d7ce6" fill-rule="evenodd"/>
<path d="M221.4 362.4 320 362.4 320 262.2 221.4 262.2 221.4 361.8ZM265.2 326.2 263 325.2 260.7 323.4 258.8 321.2 257.3 318.4 256.2 315.6 255.6 312.3 255.4 309 255.8 305.6 256.7 302.8 258.1 300.1 259.8 297.8 261.9 295.9 264.1 294.7 266.9 293.9 269.6 293.8 271.8 294.3 274.5 295.6 276.7 297.3 278.6 299.5 279.9 301.7 281 304.5 281.6 307.3 281.7 310.1 281.4 313.4 280.5 316.8 279.3 319.5 277.8 321.8 275.6 324 273.4 325.5 270.7 326.5 268 326.8 265.8 326.4Z" fill="#6788ee" fill-rule="evenodd"/>
<path d="M221.4 362.4 320 362.4 320 262.2 221.4 262.2 221.4 361.8ZM265.8 328.5 263 327.5 260.4 325.7 258.3 323.4 256.5 320.6 255.1 317.3 254.3 314 253.9 310.1 254.1 306.7 254.9 303.4 256.3 300.1 258.1 297.4 260.3 295.2 263 293.5 265.8 292.5 268.5 292.2 271.2 292.5 274 293.5 276.7 295.2 278.9 297.3 280.8 300.1 282.1 302.8 283 306.2 283.3 309.5 283.1 312.9 282.4 316.2 281.1 319.7 279.5 322.5 277.3 325.1 274.5 327.1 271.8 328.3 269.1 328.8 266.3 328.6Z" fill="#7295f4" fill-rule="evenodd"/>
<path d="M221.4 362.4 320 362.4 320 262.2 221.4 262.2 221.4 361.8ZM266.3 330.7 263 329.7 260.3 328 257.9 325.7 255.9 322.9 254.2 319.5 253 315.6 252.4 311.2 252.5 307.3 253.3 303.4 254.6 300.1 256.5 297 258.6 294.6 261.4 292.6 264.1 291.4 267.4 290.7 270.7 290.9 274 291.8 276.7 293.3 279.5 295.6 281.7 298.3 283.4 301.7 284.4 305.1 284.9 308.4 284.8 312.3 284.1 316.2 282.8 320.1 281 323.4 278.7 326.2 276.1 328.4 272.9 330.1 270.2 330.8 266.9 330.8Z" fill="#7da0f9" fill-rule="evenodd"/>
<path d="M221.4 362.4 320 362.4 320 262.2 221.4 262.2 221.4 361.8ZM267.4 332.9 264.1 332.2 260.8 330.7 258 328.4 255.4 325.2 253.2 321.2 251.8 317.3 251 312.9 250.9 308.4 251.4 304.5 252.7 300.6 254.4 297.3 257 294.1 259.7 291.8 263 290.1 266.3 289.3 269.6 289.2 272.9 289.8 276.2 291.1 279.4 293.4 282 296.2 284.1 299.5 285.5 302.8 286.3 306.7 286.5 310.6 286 315.1 284.8 319.5 283 323.4 280.7 326.8 277.8 329.6 274.5 331.6 271.2 332.7 268 332.9Z" fill="#88abfd" fill-rule="evenodd"/>
<path d="M221.4 362.4 320 362.4 320 262.2 221.4 262.2 221.4 361.8ZM265.2 334.7 261.8 333.5 258.4 331.2 255.4 328.2 253 324.5 251.2 320.6 250 316.2 249.4 311.2 249.5 306.2 250.6 301.7 252.3 297.8 254.5 294.5 257.6 291.5 260.8 289.4 264.1 288.1 268 287.6 271.8 287.9 275.6 289.1 278.9 291 282.2 293.9 284.8 297.3 286.4 300.6 287.5 303.9 288.1 308.4 288 313.4 286.9 318.4 285.3 322.9 283 326.8 280 330.1 276.7 332.6 273.4 334.2 269.6 335 265.8 334.8Z" fill="#93b5fe" fill-rule="evenodd"/>
<path d="M221.4 362.4 320 362.4 320 262.2 221.4 262.2 221.4 361.8ZM265.8 336.8 261.9 335.7 258.1 333.4 254.8 330.4 252.1 326.7 249.9 322.3 248.4 317.3 247.6 311.7 247.7 306.7 248.6 302.3 250.3 297.8 252.8 293.9 255.9 290.6 259.7 288.1 263.6 286.6 267.4 285.9 271.8 286.2 276.2 287.4 280 289.5 283.5 292.3 286.2 295.6 288.4 299.5 289.9 303.9 290.6 308.4 290.4 313.4 289.4 318.4 287.5 323.4 284.9 327.8 282 331.2 278.4 334.1 274.5 335.9 270.7 336.9 266.3 336.9Z" fill="#9ebeff" fill-rule="evenodd"/>
<path d="M221.4 362.4 320 362.4 320 262.2 221.4 262.2 221.4 361.8ZM264.1 338.5 259.7 336.8 255.9 334.2 252.6 330.7 249.7 326.2 247.6 321.2 246.2 315.6 245.7 309.5 246.2 304.5 247.6 299.5 249.8 295 252.9 291.1 256.5 288.1 260.3 285.9 264.7 284.6 269.1 284.3 274 284.9 278.4 286.4 282.6 288.9 286.3 292.3 289.2 296.2 291.4 300.6 292.7 305.6 293 310.6 292.5 315.6 291 321.2 288.8 326.1 286 330.1 282.2 333.9 278.4 336.5 274 338.2 269.1 339 264.7 338.6Z" fill="#a9c6fd" fill-rule="evenodd"/>
<path d="M221.4 362.4 320 362.4 320 262.2 221.4 262.2 221.4 361.8ZM265.2 340.8 262.6 340.1 260.3 339.3 255.9 336.6 252.1 333 248.8 328.4 246.2 322.9 244.7 317.3 243.9 311.2 244 307.8 244.3 305.1 245.5 300.1 247.8 295 251 290.6 254.8 287.1 259.2 284.6 264.1 283 269.1 282.6 274 283.2 278.9 284.7 283.6 287.2 287.6 290.6 290.8 294.5 293.3 298.9 294.9 303.9 295.5 309 295.2 314.5 294 320.1 291.7 325.7 288.8 330.3 284.9 334.5 280.6 337.7 275.6 339.9 270.7 340.9 265.8 340.8Z" fill="#b3cdfb" fill-rule="evenodd"/>
<path d="M221.4 362.4 320 362.4 320 262.2 221.4 262.2 221.4 361.8ZM266.3 342.9 264.1 342.7 261.9 342.1 259.2 341 256.5 339.4 254.8 338.3 251.9 335.7 249.5 332.9 247.9 330.7 245.3 325.7 244 322.3 243 318.4 242.4 315.1 242.1 311.2 242.3 305.6 243.5 300.1 245.7 295 247.4 292.3 249.1 290 252.1 287 254.3 285.3 257 283.6 261.4 281.8 263.6 281.3 267.4 280.8 270.2 280.8 272.9 281.2 274.5 281.4 278.4 282.5 283.3 284.7 286.6 286.9 288.8 288.7 292.5 292.8 295.2 297.3 296.2 299.5 297.2 302.8 298 307.3 297.9 313.4 296.7 319.5 294.7 325.1 291.8 330.1 289.7 332.9 287.1 335.5 284.4 337.8 282.2 339.2 277.3 341.6 272.3 342.8 269.1 343.1 266.9 343Z" fill="#bed2f6" fill-rule="evenodd"/>
<path d="M221.4 362.4 320 362.4 320 262.2 221.4 262.2 221.4 361.8ZM266.3 346.3 263 345.8 260.3 344.9 257.6 343.8 254.8 342.2 252.1 340.2 249.9 338.2 247.6 335.7 245.6 332.9 243.9 330 242.3 326.8 241.1 323.4 240 319.5 239 312.3 238.9 308.4 239.2 305.1 239.8 301.7 240.7 298.4 241.9 295 243.3 292.3 245 289.5 247.1 286.7 249.3 284.3 251.5 282.4 254.3 280.5 257 279 259.7 277.9 262.5 277.1 265.2 276.6 268.5 276.5 271.8 276.6 275.1 277.1 278.4 277.9 281.4 278.9 287.1 281.8 292.2 285.6 294.4 287.8 296.4 290.3 299.7 295.6 300.9 298.4 301.9 301.7 302.9 307.8 302.7 314 302.1 317.3 301.3 320.6 300.1 324 298.6 327.3 295 332.9 292.6 335.7 290.4 337.8 287.7 340 285 341.8 279.5 344.4 273.4 346 270.2 346.3 266.9 346.3Z" fill="#c7d7f0" fill-rule="evenodd"/>
<path d="M221.4 362.4 320 362.4 320 262.2 221.4 262.2 221.4 361.8ZM266.3 349.6 263 349.2 259.7 348.3 256.5 346.9 253.7 345.4 251 343.5 248.2 341.1 245.5 338.2 243.2 335.1 241.2 331.8 239.6 328.4 238.1 324.5 237 320.6 236.3 316.8 235.8 312.3 235.8 307.8 236.1 303.9 236.8 300.1 237.8 296.4 239.2 292.8 240.8 289.5 242.8 286.3 245 283.4 247.7 280.6 250.3 278.3 253.2 276.4 255.9 274.9 259.2 273.5 262.5 272.6 265.8 272.1 269.1 272 272.9 272.2 276.4 272.8 280 273.7 283.3 274.8 286.6 276.2 289.9 278.1 293.2 280.3 295.9 282.7 298.2 285 300.5 287.8 302.5 290.7 304.2 293.9 305.7 297.3 306.7 300.6 307.4 303.9 307.8 307.3 307.8 310.6 307.5 314.5 306.9 318.4 306 321.8 304.7 325.1 303.2 328.4 301.2 331.8 299.2 334.6 296.8 337.3 293.9 340.1 291 342.4 287.7 344.5 284.4 346.2 281.1 347.5 277.8 348.5 274 349.3 270.2 349.7 266.9 349.7Z" fill="#d1dae9" fill-rule="evenodd"/>
<path d="M221.4 362.4 320 362.4 320 262.2 221.4 262.2 221.4 361.8ZM262.5 355.2 258.6 354.2 254.8 352.7 251 350.7 247.7 348.4 244.4 345.6 241.4 342.4 238.8 339 236.4 335.1 234.5 331.2 232.7 326.8 231.4 322.3 230.6 317.9 230.1 313.4 230 308.4 230.3 303.4 231.1 298.9 232.2 294.5 233.8 290 235.7 286.1 238 282.2 240.6 278.8 243.5 275.6 246.6 272.8 249.9 270.4 253.2 268.5 257 266.9 260.3 265.9 264.1 265.2 268 264.9 272.3 265 276.7 265.6 281.1 266.5 285.5 267.9 289.3 269.6 293.2 271.6 296.7 273.9 300.2 276.7 303.1 279.5 306 282.8 308.4 286.1 310.7 290 312.3 293.7 313.7 297.8 314.7 301.7 315.2 305.6 315.4 310.1 315.1 314.5 314.5 318.4 313.4 322.9 312 326.8 310.2 330.7 307.9 334.5 305.5 337.9 302.6 341.2 299.7 344 296.2 346.8 292.6 349.1 288.6 351.3 284.4 353 280 354.3 275.6 355.2 271.2 355.6 266.9 355.7 263 355.3Z" fill="#d9dce1" fill-rule="evenodd"/>
<path d="M221.4 289.5 221.4 289.8 221.7 289.5 221.7 287.8 222.3 287.2 222.3 285.6 222.8 285 222.8 283.9 223.4 283.4 223.4 281.7 223.9 281.1 223.9 279.5 224.5 278.9 224.5 277.2 225 276.7 225 275.6 225.6 275 225.6 273.3 226.1 272.8 226.1 271.1 226.7 270.5 226.7 268.9 227.2 268.3 227.2 267.2 227.8 266.7 227.8 265 228.3 264.4 228.3 262.8 228.5 262.5 228.9 262.2 221.4 262.2 221.4 288.9Z" fill="#b40426" fill-rule="evenodd"/>
<path d="M293 261.2H321V267.3Z" fill="#fff"/>
</g>
<path d="M254.3 262.2V362.4M287.1 262.2V362.4M221.4 345.7H320M221.4 329H320M221.4 312.3H320M221.4 295.6H320M221.4 278.9H320" stroke="#b8b8b8" stroke-opacity="0.3" stroke-width="0.8" fill="none"/>
<path d="M257 299.3 257.1 298.6 257.3 297.9 257.1 297.2 257.3 296.4 257.6 295.7 257.4 295 257.7 294.3 257.3 293.6 257.5 292.8 257.4 292.1 257.8 291.4 257.9 290.7 258.1 289.9 258.7 289.4 260 289.8 260.7 290.3 261.3 290.7 261.9 291.2 262.6 291.6 263.3 292 263.9 292.6 264.8 292 265.1 291.2 265.2 290.3 265.5 289.6 265.4 288.7 265.9 288 266.1 287.2 266.3 286.5 266.8 285.8 267.2 285.2 268.2 284.3 269.5 283.9 270.8 283.4 270.9 282.5 271.3 281.7 271.5 280.8 271.5 280 271.7 279.1 271.7 278.3 272.2 277.7 272.4 277 273.4 277.4 274 278.2 274.7 278.7 275.6 278 276.2 277.4 276.9 277 277.7 276.7 278.6 276.8 279.3 277.1 279.9 277.4 280 278.2 280.2 278.9 280.8 279.5 281 280.4 281.1 281.3 281.6 282.1 281.6 283 282.1 283.8 282.2 284.7 282.7 285.4 282.5 286.2 282.7 287 282.9 287.7 283.2 288.5 283.5 289.2 283.6 290 283.8 290.7 284.2 291.6 284.5 292.4 284.7 293.1 284.8 293.8 284.7 294.5 284.6 295.2 284.9 295.9 284.8 296.6 285 297.3 285.1 298.1 285 298.8 285.2 299.5 285.2 300.2 285.1 301 285.4 301.7 285.2 302.4 285.3 303.2 285.1 303.9 285.1 304.6 285.3 305.3 285.2 306.1 285.2 306.8 285.4 307.5 285.2 308.2 285.4 308.9 285.3 309.7 285.4 310.4 285.3 311.1 285.3 311.9 285.5 312.7 285.3 313.4 284.9 314.2 285.1 315 284.9 316 284.4 316.9 284.1 317.6 284.1 318.4 283.9 319.2 284 320 283.9 320.7 283.7 321.5 283.9 322.2 283.8 323 283.4 323.6 283.5 324.4 283.4 325.2 283.3 325.9 283.2 326.7 282.9 327.4 282.7 328.2 282.8 329 282.4 329.8 281.7 330.4 281.4 331.3 281 331.9 280.8 332.5 280.5 333.2 280.1 333.8 280 334.6 279.5 335.2 278.6 335.7 278.1 336.6 277.6 337.5 277.6 338.4 276.8 338.7 276.1 339.1 275.4 339.5 274.7 339.9 273.7 340 272.8 340.4 272.1 340 271.3 339.9 270.9 339.1 270.3 338.4 270.3 337.6 269.8 336.8 269.4 336.1 269 335.5 268.8 334.8 268.4 334.2 267.8 333.5 267.4 332.7 266.6 332.2 266 331.5 265.1 331.2 264.1 331.1 263.1 331 262.1 331.3 261.5 330.8 260.7 330.8 260.4 330 259.7 329.4 259.5 328.7 259 328 259 327.2 258.8 326.5 259 325.7 258.8 325 258.6 324.2 258.5 323.4 258.5 322.6 258.3 321.9 258.3 321.1 258.2 320.3 258.7 319.5 258.5 318.8 258.5 318 258.1 317.3 258.2 316.5 257.9 315.8 258.1 315 257.9 314.2 258.1 313.4 258 312.7 257.8 311.9 257.8 311.1 257.3 310.2 257.1 309.2 257.1 308.4 257.3 307.6 256.9 306.9 256.6 306.1 256.8 305.3 256.6 304.6 256.6 303.8 257.2 303.1 256.9 302.3 257.1 301.6 256.8 300.8 256.8 300.1 257 299.3" stroke="#1a1a1a" stroke-width="0.75" fill="none" stroke-linejoin="round"/>
<rect x="221.4" y="262.2" width="98.6" height="100.2" fill="none" stroke="#6e6e6e" stroke-width="0.9"/>
<path d="M221.4 362.4v1.8M254.3 362.4v1.8M287.1 362.4v1.8M320 362.4v1.8M221.4 362.4h-1.8M221.4 345.7h-1.8M221.4 329h-1.8M221.4 312.3h-1.8M221.4 295.6h-1.8M221.4 278.9h-1.8M221.4 262.2h-1.8" stroke="#6e6e6e" stroke-width="0.7"/>
<text x="221.4" y="372.7" font-size="8.5" text-anchor="middle" fill="#1a1a1a" textLength="5.1" lengthAdjust="spacingAndGlyphs" >0</text>
<text x="254.3" y="372.7" font-size="8.5" text-anchor="middle" fill="#1a1a1a" textLength="10.2" lengthAdjust="spacingAndGlyphs" >50</text>
<text x="287.1" y="372.7" font-size="8.5" text-anchor="middle" fill="#1a1a1a" textLength="15.3" lengthAdjust="spacingAndGlyphs" >100</text>
<text x="320" y="372.7" font-size="8.5" text-anchor="middle" fill="#1a1a1a" textLength="15.3" lengthAdjust="spacingAndGlyphs" >150</text>
<clipPath id="c22"><rect x="341.4" y="262.2" width="99.2" height="100.2"/></clipPath>
<g clip-path="url(#c22)">
<path d="M388.2 349.6 408 324.2 409.8 311.2 411.1 298.2 393.2 269.8 369.6 306.8 368.2 320.4Z" fill="#6788ee" fill-rule="evenodd"/>
<path d="M388.2 349.6 408 324.2 409.8 311.2 411.1 298.2 393.2 269.8 369.6 306.8 368.2 320.4ZM402.2 309.5 402.7 308.3 403.7 306.9 404.6 308.5 406.7 310.7 404.1 312.2 402.8 314.8 402.4 311.8Z" fill="#7295f4" fill-rule="evenodd"/>
<path d="M409.1 316.4 406.1 318.2 403 324 400.4 324.8 400 323.7 398.4 307.3 400.4 302.5 404.2 297 407.8 303.3 410.3 306 411.1 298.2 393.2 269.8 369.6 306.8 368.2 320.4 388.2 349.6 408 324.2Z" fill="#7da0f9" fill-rule="evenodd"/>
<path d="M408 324.2 397.8 327.5 397 326 396.2 323.1 394.5 305.2 398.1 296.7 399 290.9 400.8 290.8 411.1 298.2 393.2 269.8 369.6 306.8 368.2 320.4 388.2 349.6Z" fill="#88abfd" fill-rule="evenodd"/>
<path d="M404.5 328.7 403.5 328.5 402.3 327.8 395.1 330.1 393.9 327.5 392.2 322.7 390.7 303.1 393.6 296.1 393.6 286.3 393.8 284.8 397.3 284.6 403.2 288.9 406.2 290.4 393.2 269.8 369.6 306.8 368.2 320.4 388.2 349.6Z" fill="#93b5fe" fill-rule="evenodd"/>
<path d="M401 333.2 399 332.8 396.5 331.4 392.4 332.7 390.7 329.1 388.4 322.5 387.7 310.1 386.7 304.5 387.7 299 389.2 295.6 389.1 287.7 388.8 285.8 392.5 278.5 393.9 278.5 395.3 279.5 401.3 282.7 393.2 269.8 369.6 306.8 368.2 320.4 388.2 349.6Z" fill="#9ebeff" fill-rule="evenodd"/>
<path d="M397.5 337.6 394.5 337.1 390.8 335.1 389.8 335.4 389.1 334 386.1 325.8 384.9 322.2 384.6 317.2 382.7 305.9 384.7 295 383.7 290.2 387.1 283.7 393 273.1 396.5 274.9 393.2 269.8 369.6 306.8 368.2 320.4 388.2 349.6Z" fill="#a9c6fd" fill-rule="evenodd"/>
<path d="M394 342.1 390 341.4 388.6 340.6 384.3 331.1 381.1 321.7 378.6 307.3 379.2 304.5 378.7 294.7 389.3 275.9 369.6 306.8 368.2 320.4 388.2 349.6Z" fill="#b3cdfb" fill-rule="evenodd"/>
<path d="M390.5 346.6 388.4 346.2 381.7 335.3 379.6 328.2 377.5 323.4 376.7 321.1 375.9 316.5 373.5 307.3 373.2 302 377.5 294.5 369.6 306.8 368.2 320.4 388.2 349.6Z" fill="#bed2f6" fill-rule="evenodd"/>
<path d="M378.2 335 371.6 324.1 370.5 320.5 368.9 313.6 368.2 320.4Z" fill="#c7d7f0" fill-rule="evenodd"/>
</g>
<path d="M374.5 262.2V362.4M407.5 262.2V362.4M341.4 345.7H440.6M341.4 329H440.6M341.4 312.3H440.6M341.4 295.6H440.6M341.4 278.9H440.6" stroke="#b8b8b8" stroke-opacity="0.3" stroke-width="0.8" fill="none"/>
<path d="M377.2 299.3 377.3 298.6 377.5 297.9 377.3 297.2 377.5 296.4 377.8 295.7 377.6 295 378 294.3 377.6 293.6 377.7 292.8 377.7 292.1 378 291.4 378.1 290.7 378.3 289.9 379 289.4 380.3 289.8 380.9 290.3 381.6 290.7 382.2 291.2 382.9 291.6 383.6 292 384.2 292.6 385.1 292 385.4 291.2 385.5 290.3 385.7 289.6 385.6 288.7 386.2 288 386.4 287.2 386.6 286.5 387.1 285.8 387.5 285.2 388.5 284.3 389.8 283.9 391.1 283.4 391.2 282.5 391.6 281.7 391.8 280.8 391.8 280 392 279.1 392 278.3 392.5 277.7 392.7 277 393.7 277.4 394.3 278.2 395.1 278.7 395.9 278 396.5 277.4 397.2 277 398.1 276.7 398.9 276.8 399.6 277.1 400.3 277.4 400.3 278.2 400.6 278.9 401.2 279.5 401.3 280.4 401.5 281.3 402 282.1 402 283 402.5 283.8 402.6 284.7 403 285.4 402.9 286.2 403.1 287 403.3 287.7 403.6 288.5 403.9 289.2 404 290 404.2 290.7 404.5 291.6 404.9 292.4 405.1 293.1 405.1 293.8 405.1 294.5 404.9 295.2 405.2 295.9 405.2 296.6 405.4 297.3 405.5 298.1 405.4 298.8 405.6 299.5 405.6 300.2 405.5 301 405.8 301.7 405.6 302.4 405.7 303.2 405.5 303.9 405.5 304.6 405.7 305.3 405.6 306.1 405.6 306.8 405.8 307.5 405.6 308.2 405.8 308.9 405.6 309.7 405.8 310.4 405.7 311.1 405.7 311.9 405.9 312.7 405.7 313.4 405.2 314.2 405.5 315 405.3 316 404.7 316.9 404.5 317.6 404.5 318.4 404.3 319.2 404.4 320 404.3 320.7 404.1 321.5 404.3 322.2 404.2 323 403.8 323.6 403.9 324.4 403.8 325.2 403.7 325.9 403.6 326.7 403.3 327.4 403.1 328.2 403.1 329 402.8 329.8 402.1 330.4 401.8 331.3 401.4 331.9 401.2 332.5 400.9 333.2 400.4 333.8 400.3 334.6 399.9 335.2 399 335.7 398.4 336.6 398 337.5 397.9 338.4 397.1 338.7 396.5 339.1 395.8 339.5 395 339.9 394 340 393.1 340.4 392.4 340 391.6 339.9 391.2 339.1 390.6 338.4 390.6 337.6 390.1 336.8 389.7 336.1 389.3 335.5 389 334.8 388.7 334.2 388 333.5 387.7 332.7 386.9 332.2 386.3 331.5 385.3 331.2 384.3 331.1 383.3 331 382.3 331.3 381.7 330.8 380.9 330.8 380.6 330 379.9 329.4 379.7 328.7 379.2 328 379.2 327.2 379 326.5 379.2 325.7 379 325 378.8 324.2 378.7 323.4 378.7 322.6 378.6 321.9 378.5 321.1 378.5 320.3 379 319.5 378.7 318.8 378.7 318 378.4 317.3 378.4 316.5 378.1 315.8 378.3 315 378.1 314.2 378.3 313.4 378.2 312.7 378.1 311.9 378 311.1 377.5 310.2 377.3 309.2 377.3 308.4 377.5 307.6 377.1 306.9 376.8 306.1 377 305.3 376.8 304.6 376.8 303.8 377.4 303.1 377.1 302.3 377.3 301.6 377 300.8 377 300.1 377.2 299.3" stroke="#1a1a1a" stroke-width="0.75" fill="none" stroke-linejoin="round"/>
<g fill="#000"><rect x="392.5" y="269" width="1.5" height="1.5"/><rect x="392" y="275.7" width="1.5" height="1.5"/><rect x="391.4" y="282" width="1.5" height="1.5"/><rect x="377.9" y="294" width="1.5" height="1.5"/><rect x="384" y="294.3" width="1.5" height="1.5"/><rect x="397.4" y="295.9" width="1.5" height="1.5"/><rect x="403.5" y="296.2" width="1.5" height="1.5"/><rect x="410.4" y="297.4" width="1.5" height="1.5"/><rect x="389.9" y="302.3" width="1.5" height="1.5"/><rect x="368.9" y="306.1" width="1.5" height="1.5"/><rect x="376.6" y="307" width="1.5" height="1.5"/><rect x="402.8" y="309.5" width="1.5" height="1.5"/><rect x="409.1" y="310.5" width="1.5" height="1.5"/><rect x="367.4" y="319.6" width="1.5" height="1.5"/><rect x="374.4" y="320.1" width="1.5" height="1.5"/><rect x="381.9" y="321.2" width="1.5" height="1.5"/><rect x="388.9" y="321.9" width="1.5" height="1.5"/><rect x="394.1" y="322.1" width="1.5" height="1.5"/><rect x="400.6" y="323.2" width="1.5" height="1.5"/><rect x="407.3" y="323.5" width="1.5" height="1.5"/><rect x="388.9" y="328.8" width="1.5" height="1.5"/><rect x="388.1" y="335.5" width="1.5" height="1.5"/><rect x="387.8" y="342.1" width="1.5" height="1.5"/><rect x="387.4" y="348.8" width="1.5" height="1.5"/></g>
<rect x="341.4" y="262.2" width="99.2" height="100.2" fill="none" stroke="#6e6e6e" stroke-width="0.9"/>
<path d="M341.4 362.4v1.8M374.5 362.4v1.8M407.5 362.4v1.8M440.6 362.4v1.8M341.4 362.4h-1.8M341.4 345.7h-1.8M341.4 329h-1.8M341.4 312.3h-1.8M341.4 295.6h-1.8M341.4 278.9h-1.8M341.4 262.2h-1.8" stroke="#6e6e6e" stroke-width="0.7"/>
<text x="341.4" y="372.7" font-size="8.5" text-anchor="middle" fill="#1a1a1a" textLength="5.1" lengthAdjust="spacingAndGlyphs" >0</text>
<text x="374.5" y="372.7" font-size="8.5" text-anchor="middle" fill="#1a1a1a" textLength="10.2" lengthAdjust="spacingAndGlyphs" >50</text>
<text x="407.5" y="372.7" font-size="8.5" text-anchor="middle" fill="#1a1a1a" textLength="15.3" lengthAdjust="spacingAndGlyphs" >100</text>
<text x="440.6" y="372.7" font-size="8.5" text-anchor="middle" fill="#1a1a1a" textLength="15.3" lengthAdjust="spacingAndGlyphs" >150</text>
<rect x="152.7" y="352.2" width="5.2" height="6.1" fill="#5b3406"/>
<rect x="152.7" y="346.5" width="5.2" height="6.1" fill="#6e4007"/>
<rect x="152.7" y="340.8" width="5.2" height="6.1" fill="#804a09"/>
<rect x="152.7" y="335.1" width="5.2" height="6.1" fill="#8f540c"/>
<rect x="152.7" y="329.4" width="5.2" height="6.1" fill="#a16518"/>
<rect x="152.7" y="323.7" width="5.2" height="6.1" fill="#b17423"/>
<rect x="152.7" y="318" width="5.2" height="6.1" fill="#c08430"/>
<rect x="152.7" y="312.3" width="5.2" height="6.1" fill="#ca9849"/>
<rect x="152.7" y="306.6" width="5.2" height="6.1" fill="#d4ac62"/>
<rect x="152.7" y="300.9" width="5.2" height="6.1" fill="#dec17b"/>
<rect x="152.7" y="295.2" width="5.2" height="6.1" fill="#e6cd92"/>
<rect x="152.7" y="289.5" width="5.2" height="6.1" fill="#edd9a8"/>
<rect x="152.7" y="283.8" width="5.2" height="6.1" fill="#f4e5be"/>
<rect x="152.7" y="278.1" width="5.2" height="6.1" fill="#f6ebcf"/>
<rect x="152.7" y="272.4" width="5.2" height="6.1" fill="#f5efde"/>
<rect x="152.7" y="266.8" width="5.2" height="6.1" fill="#f5f3ee"/>
<path d="M152.7 267.1L155.3 262.2L157.9 267.1Z" fill="#003c30"/>
<path d="M152.7 357.5L155.3 362.4L157.9 357.5Z" fill="#543005"/>
<text x="161.3" y="361.3" font-size="10.1" text-anchor="start" fill="#1a1a1a" textLength="22.8" lengthAdjust="spacingAndGlyphs" >−2.4</text>
<text x="161.3" y="331" font-size="10.1" text-anchor="start" fill="#1a1a1a" textLength="22.8" lengthAdjust="spacingAndGlyphs" >−1.6</text>
<text x="161.3" y="300.6" font-size="10.1" text-anchor="start" fill="#1a1a1a" textLength="22.8" lengthAdjust="spacingAndGlyphs" >−0.8</text>
<text x="161.3" y="270.3" font-size="10.1" text-anchor="start" fill="#1a1a1a" textLength="15" lengthAdjust="spacingAndGlyphs" >0.0</text>
<path d="M157.9 357.8h1.8M157.9 327.5h1.8M157.9 297.1h1.8M157.9 266.8h1.8" stroke="#6e6e6e" stroke-width="0.7"/>
<text transform="translate(194 312.3) rotate(-90)" font-size="10" text-anchor="middle" fill="#1a1a1a" textLength="40.8" lengthAdjust="spacingAndGlyphs"><tspan font-style="italic">U</tspan><tspan font-style="italic" font-size="7" dy="1.6">Z</tspan><tspan dy="-1.6"> [mm]</tspan></text>
<rect x="455.4" y="352.2" width="5" height="6.1" fill="#3f53c6"/>
<rect x="455.4" y="346.5" width="5" height="6.1" fill="#4961d2"/>
<rect x="455.4" y="340.8" width="5" height="6.1" fill="#536edd"/>
<rect x="455.4" y="335.1" width="5" height="6.1" fill="#5d7ce6"/>
<rect x="455.4" y="329.4" width="5" height="6.1" fill="#6788ee"/>
<rect x="455.4" y="323.7" width="5" height="6.1" fill="#7295f4"/>
<rect x="455.4" y="318" width="5" height="6.1" fill="#7da0f9"/>
<rect x="455.4" y="312.3" width="5" height="6.1" fill="#88abfd"/>
<rect x="455.4" y="306.6" width="5" height="6.1" fill="#93b5fe"/>
<rect x="455.4" y="300.9" width="5" height="6.1" fill="#9ebeff"/>
<rect x="455.4" y="295.2" width="5" height="6.1" fill="#a9c6fd"/>
<rect x="455.4" y="289.5" width="5" height="6.1" fill="#b3cdfb"/>
<rect x="455.4" y="283.8" width="5" height="6.1" fill="#bed2f6"/>
<rect x="455.4" y="278.1" width="5" height="6.1" fill="#c7d7f0"/>
<rect x="455.4" y="272.4" width="5" height="6.1" fill="#d1dae9"/>
<rect x="455.4" y="266.8" width="5" height="6.1" fill="#d9dce1"/>
<path d="M455.4 267.1L457.9 262.2L460.4 267.1Z" fill="#b40426"/>
<path d="M455.4 357.5L457.9 362.4L460.4 357.5Z" fill="#3b4cc0"/>
<text x="463.8" y="361.3" font-size="10.1" text-anchor="start" fill="#1a1a1a" textLength="19.9" lengthAdjust="spacingAndGlyphs" >−24</text>
<text x="463.8" y="331" font-size="10.1" text-anchor="start" fill="#1a1a1a" textLength="19.9" lengthAdjust="spacingAndGlyphs" >−16</text>
<text x="463.8" y="300.6" font-size="10.1" text-anchor="start" fill="#1a1a1a" textLength="13.9" lengthAdjust="spacingAndGlyphs" >−8</text>
<text x="463.8" y="270.3" font-size="10.1" text-anchor="start" fill="#1a1a1a" textLength="6" lengthAdjust="spacingAndGlyphs" >0</text>
<path d="M460.4 357.8h1.8M460.4 327.5h1.8M460.4 297.1h1.8M460.4 266.8h1.8" stroke="#6e6e6e" stroke-width="0.7"/>
<text transform="translate(493.6 312.3) rotate(-90)" font-size="9.5" text-anchor="middle" fill="#1a1a1a" textLength="39.5" lengthAdjust="spacingAndGlyphs"><tspan font-style="italic">U</tspan><tspan font-style="italic" font-size="7" dy="1.6">Z</tspan><tspan dy="-1.6"> [cm]</tspan></text>
<text x="88.4" y="36.3" font-size="10.1" text-anchor="middle" font-weight="bold" fill="#000" textLength="89" lengthAdjust="spacingAndGlyphs" >Elastic E = 1 GPa</text>
<text x="270.1" y="36.3" font-size="10.1" text-anchor="middle" font-weight="bold" fill="#000" textLength="117" lengthAdjust="spacingAndGlyphs" >Glen-Nye law, T=f(x,z)</text>
<text x="390.8" y="36.3" font-size="10.1" text-anchor="middle" font-weight="bold" fill="#000" textLength="110.5" lengthAdjust="spacingAndGlyphs" >Stake measurements</text>
<text x="268.9" y="385.4" font-size="10.7" text-anchor="middle" fill="#1a1a1a" textLength="110.5" lengthAdjust="spacingAndGlyphs" >Distance along X [m]</text>
<text transform="translate(13.3 200.85) rotate(-90)" font-size="10.7" text-anchor="middle" fill="#1a1a1a" textLength="111.5" lengthAdjust="spacingAndGlyphs">Distance along Y [m]</text>
<path d="M200.5 15.3H325.6V17.7H200.5Z" fill="#000"/><path d="M189.3 16.5L200.8 9.9V23.2Z" fill="#000"/>
<text x="262.8" y="12.8" font-size="10.3" text-anchor="middle" font-weight="bold" fill="#000" textLength="111" lengthAdjust="spacingAndGlyphs" >General flow direction</text>
</svg></body></html>
